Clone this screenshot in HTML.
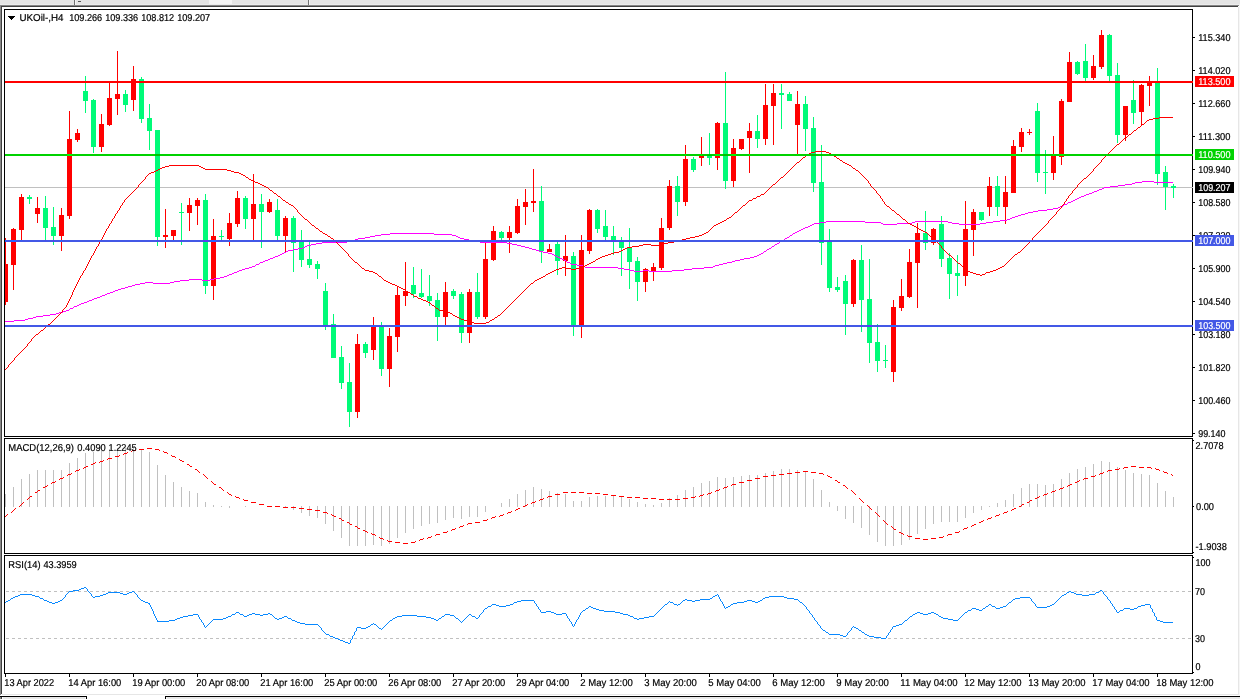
<!DOCTYPE html>
<html><head><meta charset="utf-8"><title>UKOil-,H4</title>
<style>
html,body{margin:0;padding:0;background:#fff}
body{width:1240px;height:699px;overflow:hidden}
svg{display:block}
text{font-family:"Liberation Sans",sans-serif;font-size:10px;text-rendering:geometricPrecision;stroke-width:0.2px}
</style></head><body>
<svg width="1240" height="699" viewBox="0 0 1240 699" shape-rendering="crispEdges">
<defs><clipPath id="cm"><rect x="5" y="10" width="1187" height="426"/></clipPath><clipPath id="c2"><rect x="5" y="439" width="1187" height="114"/></clipPath></defs>
<rect x="0" y="0" width="1240" height="699" fill="#ffffff"/>
<rect x="0" y="0" width="1240" height="4" fill="#e4e4e4"/>
<rect x="0" y="4" width="1240" height="1" fill="#ebebeb"/>
<rect x="0" y="5" width="1239" height="1" fill="#858585"/>
<rect x="1" y="6" width="1237" height="1" fill="#404040"/>
<rect x="0" y="5" width="1" height="690" fill="#888888"/>
<rect x="1" y="6" width="1" height="688" fill="#404040"/>
<rect x="1238" y="7" width="1" height="688" fill="#e6e6e6"/>
<rect x="1239" y="5" width="1" height="692" fill="#f6f6f6"/>
<rect x="2" y="694" width="1237" height="1" fill="#e6e6e6"/>
<rect x="74" y="0" width="1" height="5" fill="#707070"/>
<rect x="75" y="0" width="1" height="5" fill="#f4f4f4"/>
<rect x="78" y="1" width="3" height="1" fill="#555555"/>
<rect x="209" y="0" width="23" height="4" fill="#f4f4f4"/>
<rect x="308" y="0" width="1" height="5" fill="#707070"/>
<rect x="309" y="0" width="1" height="5" fill="#f4f4f4"/>
<rect x="0" y="697" width="1240" height="2" fill="#e8e8e8"/>
<rect x="87" y="695" width="78" height="4" fill="#ffffff"/>
<rect x="0" y="696" width="87" height="1" fill="#000"/>
<rect x="86" y="696" width="1" height="3" fill="#000"/>
<rect x="85" y="697" width="1" height="2" fill="#f8f8f8"/>
<rect x="165" y="696" width="1075" height="1" fill="#000"/>
<rect x="165" y="696" width="1" height="3" fill="#000"/>
<rect x="166" y="697" width="1" height="2" fill="#f8f8f8"/>
<rect x="0" y="697" width="1" height="2" fill="#888888"/>
<rect x="1" y="697" width="1" height="2" fill="#404040"/>
<rect x="2" y="697" width="1" height="2" fill="#ffffff"/>
<rect x="4" y="9" width="1189" height="1" fill="#000"/>
<rect x="4" y="436" width="1189" height="1" fill="#000"/>
<rect x="4" y="9" width="1" height="428" fill="#000"/>
<rect x="1192" y="9" width="1" height="428" fill="#000"/>
<rect x="4" y="438" width="1189" height="1" fill="#000"/>
<rect x="4" y="553" width="1189" height="1" fill="#000"/>
<rect x="4" y="438" width="1" height="116" fill="#000"/>
<rect x="1192" y="438" width="1" height="116" fill="#000"/>
<rect x="4" y="555" width="1189" height="1" fill="#000"/>
<rect x="4" y="673" width="1189" height="1" fill="#000"/>
<rect x="4" y="555" width="1" height="119" fill="#000"/>
<rect x="1192" y="555" width="1" height="119" fill="#000"/>
<g clip-path="url(#cm)">
<rect x="5" y="187" width="1187" height="1" fill="#c0c0c0"/>
<rect x="5" y="238" width="1" height="67" fill="#ff0000"/>
<rect x="3" y="264" width="5" height="38" fill="#ff0000"/>
<rect x="13" y="228" width="1" height="62" fill="#ff0000"/>
<rect x="11" y="229" width="5" height="36" fill="#ff0000"/>
<rect x="21" y="194" width="1" height="47" fill="#ff0000"/>
<rect x="19" y="197" width="5" height="33" fill="#ff0000"/>
<rect x="29" y="195" width="1" height="9" fill="#00fb78"/>
<rect x="27" y="197" width="5" height="2" fill="#00fb78"/>
<rect x="37" y="197" width="1" height="26" fill="#ff0000"/>
<rect x="35" y="208" width="5" height="6" fill="#ff0000"/>
<rect x="45" y="196" width="1" height="45" fill="#00fb78"/>
<rect x="43" y="208" width="5" height="20" fill="#00fb78"/>
<rect x="53" y="207" width="1" height="38" fill="#00fb78"/>
<rect x="51" y="227" width="5" height="9" fill="#00fb78"/>
<rect x="61" y="208" width="1" height="43" fill="#ff0000"/>
<rect x="59" y="215" width="5" height="21" fill="#ff0000"/>
<rect x="69" y="111" width="1" height="108" fill="#ff0000"/>
<rect x="67" y="139" width="5" height="77" fill="#ff0000"/>
<rect x="77" y="129" width="1" height="13" fill="#ff0000"/>
<rect x="75" y="133" width="5" height="7" fill="#ff0000"/>
<rect x="85" y="76" width="1" height="37" fill="#00fb78"/>
<rect x="83" y="91" width="5" height="10" fill="#00fb78"/>
<rect x="93" y="99" width="1" height="54" fill="#00fb78"/>
<rect x="91" y="100" width="5" height="47" fill="#00fb78"/>
<rect x="101" y="114" width="1" height="38" fill="#ff0000"/>
<rect x="99" y="124" width="5" height="23" fill="#ff0000"/>
<rect x="109" y="83" width="1" height="43" fill="#ff0000"/>
<rect x="107" y="98" width="5" height="27" fill="#ff0000"/>
<rect x="117" y="51" width="1" height="64" fill="#ff0000"/>
<rect x="115" y="94" width="5" height="5" fill="#ff0000"/>
<rect x="125" y="90" width="1" height="22" fill="#00fb78"/>
<rect x="123" y="94" width="5" height="11" fill="#00fb78"/>
<rect x="133" y="66" width="1" height="45" fill="#ff0000"/>
<rect x="131" y="79" width="5" height="21" fill="#ff0000"/>
<rect x="141" y="77" width="1" height="46" fill="#00fb78"/>
<rect x="139" y="79" width="5" height="40" fill="#00fb78"/>
<rect x="149" y="104" width="1" height="46" fill="#00fb78"/>
<rect x="147" y="118" width="5" height="13" fill="#00fb78"/>
<rect x="157" y="130" width="1" height="116" fill="#00fb78"/>
<rect x="155" y="130" width="5" height="107" fill="#00fb78"/>
<rect x="165" y="209" width="1" height="39" fill="#ff0000"/>
<rect x="163" y="235" width="5" height="2" fill="#ff0000"/>
<rect x="173" y="230" width="1" height="11" fill="#ff0000"/>
<rect x="171" y="230" width="5" height="6" fill="#ff0000"/>
<rect x="181" y="203" width="1" height="42" fill="#00fb78"/>
<rect x="179" y="212" width="5" height="1" fill="#00fb78"/>
<rect x="189" y="198" width="1" height="33" fill="#ff0000"/>
<rect x="187" y="205" width="5" height="8" fill="#ff0000"/>
<rect x="197" y="198" width="1" height="27" fill="#ff0000"/>
<rect x="195" y="200" width="5" height="6" fill="#ff0000"/>
<rect x="205" y="194" width="1" height="100" fill="#00fb78"/>
<rect x="203" y="200" width="5" height="86" fill="#00fb78"/>
<rect x="213" y="219" width="1" height="81" fill="#ff0000"/>
<rect x="211" y="236" width="5" height="50" fill="#ff0000"/>
<rect x="221" y="230" width="1" height="11" fill="#00fb78"/>
<rect x="219" y="236" width="5" height="1" fill="#00fb78"/>
<rect x="229" y="213" width="1" height="33" fill="#ff0000"/>
<rect x="227" y="223" width="5" height="16" fill="#ff0000"/>
<rect x="237" y="191" width="1" height="36" fill="#ff0000"/>
<rect x="235" y="198" width="5" height="26" fill="#ff0000"/>
<rect x="245" y="196" width="1" height="33" fill="#00fb78"/>
<rect x="243" y="198" width="5" height="21" fill="#00fb78"/>
<rect x="253" y="174" width="1" height="67" fill="#ff0000"/>
<rect x="251" y="204" width="5" height="15" fill="#ff0000"/>
<rect x="261" y="194" width="1" height="54" fill="#00fb78"/>
<rect x="259" y="204" width="5" height="8" fill="#00fb78"/>
<rect x="269" y="199" width="1" height="14" fill="#ff0000"/>
<rect x="267" y="202" width="5" height="10" fill="#ff0000"/>
<rect x="277" y="199" width="1" height="42" fill="#00fb78"/>
<rect x="275" y="210" width="5" height="26" fill="#00fb78"/>
<rect x="285" y="216" width="1" height="36" fill="#ff0000"/>
<rect x="283" y="218" width="5" height="18" fill="#ff0000"/>
<rect x="293" y="216" width="1" height="56" fill="#00fb78"/>
<rect x="291" y="218" width="5" height="25" fill="#00fb78"/>
<rect x="301" y="230" width="1" height="37" fill="#00fb78"/>
<rect x="299" y="241" width="5" height="19" fill="#00fb78"/>
<rect x="309" y="240" width="1" height="28" fill="#00fb78"/>
<rect x="307" y="259" width="5" height="6" fill="#00fb78"/>
<rect x="317" y="261" width="1" height="18" fill="#00fb78"/>
<rect x="315" y="264" width="5" height="5" fill="#00fb78"/>
<rect x="325" y="283" width="1" height="47" fill="#00fb78"/>
<rect x="323" y="291" width="5" height="35" fill="#00fb78"/>
<rect x="333" y="314" width="1" height="44" fill="#00fb78"/>
<rect x="331" y="324" width="5" height="34" fill="#00fb78"/>
<rect x="341" y="346" width="1" height="43" fill="#00fb78"/>
<rect x="339" y="357" width="5" height="26" fill="#00fb78"/>
<rect x="349" y="363" width="1" height="64" fill="#00fb78"/>
<rect x="347" y="382" width="5" height="30" fill="#00fb78"/>
<rect x="357" y="334" width="1" height="84" fill="#ff0000"/>
<rect x="355" y="344" width="5" height="68" fill="#ff0000"/>
<rect x="365" y="342" width="1" height="16" fill="#00fb78"/>
<rect x="363" y="344" width="5" height="9" fill="#00fb78"/>
<rect x="373" y="317" width="1" height="43" fill="#ff0000"/>
<rect x="371" y="326" width="5" height="24" fill="#ff0000"/>
<rect x="381" y="322" width="1" height="54" fill="#00fb78"/>
<rect x="379" y="326" width="5" height="43" fill="#00fb78"/>
<rect x="389" y="328" width="1" height="59" fill="#ff0000"/>
<rect x="387" y="336" width="5" height="33" fill="#ff0000"/>
<rect x="397" y="287" width="1" height="65" fill="#ff0000"/>
<rect x="395" y="295" width="5" height="42" fill="#ff0000"/>
<rect x="405" y="262" width="1" height="44" fill="#ff0000"/>
<rect x="403" y="291" width="5" height="5" fill="#ff0000"/>
<rect x="413" y="267" width="1" height="31" fill="#00fb78"/>
<rect x="411" y="285" width="5" height="9" fill="#00fb78"/>
<rect x="421" y="269" width="1" height="29" fill="#00fb78"/>
<rect x="419" y="293" width="5" height="4" fill="#00fb78"/>
<rect x="429" y="275" width="1" height="31" fill="#00fb78"/>
<rect x="427" y="296" width="5" height="5" fill="#00fb78"/>
<rect x="437" y="293" width="1" height="48" fill="#00fb78"/>
<rect x="435" y="300" width="5" height="17" fill="#00fb78"/>
<rect x="445" y="282" width="1" height="44" fill="#ff0000"/>
<rect x="443" y="292" width="5" height="25" fill="#ff0000"/>
<rect x="453" y="289" width="1" height="10" fill="#00fb78"/>
<rect x="451" y="291" width="5" height="5" fill="#00fb78"/>
<rect x="461" y="292" width="1" height="51" fill="#00fb78"/>
<rect x="459" y="294" width="5" height="39" fill="#00fb78"/>
<rect x="469" y="289" width="1" height="54" fill="#ff0000"/>
<rect x="467" y="292" width="5" height="41" fill="#ff0000"/>
<rect x="477" y="273" width="1" height="46" fill="#00fb78"/>
<rect x="475" y="292" width="5" height="25" fill="#00fb78"/>
<rect x="485" y="241" width="1" height="78" fill="#ff0000"/>
<rect x="483" y="259" width="5" height="58" fill="#ff0000"/>
<rect x="493" y="226" width="1" height="35" fill="#ff0000"/>
<rect x="491" y="231" width="5" height="29" fill="#ff0000"/>
<rect x="501" y="231" width="1" height="10" fill="#00fb78"/>
<rect x="499" y="232" width="5" height="6" fill="#00fb78"/>
<rect x="509" y="226" width="1" height="27" fill="#ff0000"/>
<rect x="507" y="232" width="5" height="6" fill="#ff0000"/>
<rect x="517" y="199" width="1" height="35" fill="#ff0000"/>
<rect x="515" y="206" width="5" height="27" fill="#ff0000"/>
<rect x="525" y="189" width="1" height="36" fill="#ff0000"/>
<rect x="523" y="202" width="5" height="5" fill="#ff0000"/>
<rect x="533" y="169" width="1" height="43" fill="#ff0000"/>
<rect x="531" y="201" width="5" height="2" fill="#ff0000"/>
<rect x="541" y="186" width="1" height="77" fill="#00fb78"/>
<rect x="539" y="201" width="5" height="50" fill="#00fb78"/>
<rect x="549" y="244" width="1" height="8" fill="#ff0000"/>
<rect x="547" y="249" width="5" height="3" fill="#ff0000"/>
<rect x="557" y="241" width="1" height="34" fill="#00fb78"/>
<rect x="555" y="244" width="5" height="17" fill="#00fb78"/>
<rect x="565" y="235" width="1" height="41" fill="#ff0000"/>
<rect x="563" y="256" width="5" height="5" fill="#ff0000"/>
<rect x="573" y="252" width="1" height="84" fill="#00fb78"/>
<rect x="571" y="256" width="5" height="69" fill="#00fb78"/>
<rect x="581" y="235" width="1" height="103" fill="#ff0000"/>
<rect x="579" y="250" width="5" height="75" fill="#ff0000"/>
<rect x="589" y="209" width="1" height="45" fill="#ff0000"/>
<rect x="587" y="210" width="5" height="41" fill="#ff0000"/>
<rect x="597" y="209" width="1" height="24" fill="#00fb78"/>
<rect x="595" y="210" width="5" height="19" fill="#00fb78"/>
<rect x="605" y="210" width="1" height="31" fill="#00fb78"/>
<rect x="603" y="226" width="5" height="11" fill="#00fb78"/>
<rect x="613" y="226" width="1" height="29" fill="#00fb78"/>
<rect x="611" y="236" width="5" height="6" fill="#00fb78"/>
<rect x="621" y="237" width="1" height="39" fill="#00fb78"/>
<rect x="619" y="241" width="5" height="7" fill="#00fb78"/>
<rect x="629" y="228" width="1" height="61" fill="#00fb78"/>
<rect x="627" y="248" width="5" height="14" fill="#00fb78"/>
<rect x="637" y="257" width="1" height="44" fill="#00fb78"/>
<rect x="635" y="261" width="5" height="21" fill="#00fb78"/>
<rect x="645" y="268" width="1" height="24" fill="#ff0000"/>
<rect x="643" y="269" width="5" height="13" fill="#ff0000"/>
<rect x="653" y="263" width="1" height="18" fill="#ff0000"/>
<rect x="651" y="267" width="5" height="4" fill="#ff0000"/>
<rect x="661" y="218" width="1" height="52" fill="#ff0000"/>
<rect x="659" y="228" width="5" height="40" fill="#ff0000"/>
<rect x="669" y="180" width="1" height="50" fill="#ff0000"/>
<rect x="667" y="186" width="5" height="42" fill="#ff0000"/>
<rect x="677" y="176" width="1" height="40" fill="#00fb78"/>
<rect x="675" y="186" width="5" height="16" fill="#00fb78"/>
<rect x="685" y="145" width="1" height="61" fill="#ff0000"/>
<rect x="683" y="159" width="5" height="43" fill="#ff0000"/>
<rect x="693" y="157" width="1" height="15" fill="#00fb78"/>
<rect x="691" y="159" width="5" height="11" fill="#00fb78"/>
<rect x="701" y="137" width="1" height="29" fill="#ff0000"/>
<rect x="699" y="156" width="5" height="2" fill="#ff0000"/>
<rect x="709" y="133" width="1" height="32" fill="#00fb78"/>
<rect x="707" y="155" width="5" height="3" fill="#00fb78"/>
<rect x="717" y="122" width="1" height="48" fill="#ff0000"/>
<rect x="715" y="123" width="5" height="35" fill="#ff0000"/>
<rect x="725" y="72" width="1" height="117" fill="#00fb78"/>
<rect x="723" y="123" width="5" height="58" fill="#00fb78"/>
<rect x="733" y="139" width="1" height="48" fill="#ff0000"/>
<rect x="731" y="148" width="5" height="33" fill="#ff0000"/>
<rect x="741" y="139" width="1" height="11" fill="#ff0000"/>
<rect x="739" y="139" width="5" height="10" fill="#ff0000"/>
<rect x="749" y="123" width="1" height="50" fill="#ff0000"/>
<rect x="747" y="131" width="5" height="7" fill="#ff0000"/>
<rect x="757" y="115" width="1" height="33" fill="#00fb78"/>
<rect x="755" y="131" width="5" height="8" fill="#00fb78"/>
<rect x="765" y="84" width="1" height="61" fill="#ff0000"/>
<rect x="763" y="105" width="5" height="34" fill="#ff0000"/>
<rect x="773" y="84" width="1" height="61" fill="#ff0000"/>
<rect x="771" y="93" width="5" height="13" fill="#ff0000"/>
<rect x="781" y="84" width="1" height="45" fill="#00fb78"/>
<rect x="779" y="93" width="5" height="2" fill="#00fb78"/>
<rect x="789" y="92" width="1" height="9" fill="#00fb78"/>
<rect x="787" y="94" width="5" height="7" fill="#00fb78"/>
<rect x="797" y="91" width="1" height="64" fill="#ff0000"/>
<rect x="795" y="104" width="5" height="21" fill="#ff0000"/>
<rect x="805" y="96" width="1" height="55" fill="#00fb78"/>
<rect x="803" y="104" width="5" height="25" fill="#00fb78"/>
<rect x="813" y="117" width="1" height="75" fill="#00fb78"/>
<rect x="811" y="128" width="5" height="55" fill="#00fb78"/>
<rect x="821" y="145" width="1" height="120" fill="#00fb78"/>
<rect x="819" y="182" width="5" height="61" fill="#00fb78"/>
<rect x="829" y="229" width="1" height="63" fill="#00fb78"/>
<rect x="827" y="241" width="5" height="47" fill="#00fb78"/>
<rect x="837" y="277" width="1" height="15" fill="#00fb78"/>
<rect x="835" y="287" width="5" height="3" fill="#00fb78"/>
<rect x="845" y="275" width="1" height="60" fill="#00fb78"/>
<rect x="843" y="281" width="5" height="23" fill="#00fb78"/>
<rect x="853" y="259" width="1" height="48" fill="#ff0000"/>
<rect x="851" y="260" width="5" height="44" fill="#ff0000"/>
<rect x="861" y="245" width="1" height="87" fill="#00fb78"/>
<rect x="859" y="260" width="5" height="40" fill="#00fb78"/>
<rect x="869" y="259" width="1" height="104" fill="#00fb78"/>
<rect x="867" y="299" width="5" height="44" fill="#00fb78"/>
<rect x="877" y="324" width="1" height="48" fill="#00fb78"/>
<rect x="875" y="342" width="5" height="19" fill="#00fb78"/>
<rect x="885" y="345" width="1" height="23" fill="#00fb78"/>
<rect x="883" y="360" width="5" height="1" fill="#00fb78"/>
<rect x="893" y="300" width="1" height="82" fill="#ff0000"/>
<rect x="891" y="307" width="5" height="65" fill="#ff0000"/>
<rect x="901" y="279" width="1" height="32" fill="#ff0000"/>
<rect x="899" y="296" width="5" height="12" fill="#ff0000"/>
<rect x="909" y="249" width="1" height="49" fill="#ff0000"/>
<rect x="907" y="262" width="5" height="35" fill="#ff0000"/>
<rect x="917" y="223" width="1" height="85" fill="#ff0000"/>
<rect x="915" y="233" width="5" height="30" fill="#ff0000"/>
<rect x="925" y="211" width="1" height="39" fill="#00fb78"/>
<rect x="923" y="233" width="5" height="10" fill="#00fb78"/>
<rect x="933" y="228" width="1" height="17" fill="#ff0000"/>
<rect x="931" y="229" width="5" height="14" fill="#ff0000"/>
<rect x="941" y="216" width="1" height="51" fill="#00fb78"/>
<rect x="939" y="224" width="5" height="35" fill="#00fb78"/>
<rect x="949" y="253" width="1" height="46" fill="#00fb78"/>
<rect x="947" y="258" width="5" height="16" fill="#00fb78"/>
<rect x="957" y="255" width="1" height="41" fill="#00fb78"/>
<rect x="955" y="273" width="5" height="3" fill="#00fb78"/>
<rect x="965" y="201" width="1" height="85" fill="#ff0000"/>
<rect x="963" y="229" width="5" height="47" fill="#ff0000"/>
<rect x="973" y="209" width="1" height="47" fill="#ff0000"/>
<rect x="971" y="212" width="5" height="18" fill="#ff0000"/>
<rect x="981" y="212" width="1" height="9" fill="#00fb78"/>
<rect x="979" y="212" width="5" height="8" fill="#00fb78"/>
<rect x="989" y="177" width="1" height="39" fill="#ff0000"/>
<rect x="987" y="186" width="5" height="21" fill="#ff0000"/>
<rect x="997" y="176" width="1" height="40" fill="#00fb78"/>
<rect x="995" y="186" width="5" height="21" fill="#00fb78"/>
<rect x="1005" y="176" width="1" height="48" fill="#ff0000"/>
<rect x="1003" y="192" width="5" height="15" fill="#ff0000"/>
<rect x="1013" y="140" width="1" height="53" fill="#ff0000"/>
<rect x="1011" y="146" width="5" height="47" fill="#ff0000"/>
<rect x="1021" y="128" width="1" height="24" fill="#ff0000"/>
<rect x="1019" y="132" width="5" height="15" fill="#ff0000"/>
<rect x="1029" y="129" width="1" height="6" fill="#ff0000"/>
<rect x="1027" y="132" width="5" height="1" fill="#ff0000"/>
<rect x="1037" y="103" width="1" height="79" fill="#00fb78"/>
<rect x="1035" y="111" width="5" height="62" fill="#00fb78"/>
<rect x="1045" y="150" width="1" height="44" fill="#00fb78"/>
<rect x="1043" y="172" width="5" height="1" fill="#00fb78"/>
<rect x="1053" y="136" width="1" height="44" fill="#ff0000"/>
<rect x="1051" y="156" width="5" height="17" fill="#ff0000"/>
<rect x="1061" y="99" width="1" height="66" fill="#ff0000"/>
<rect x="1059" y="101" width="5" height="56" fill="#ff0000"/>
<rect x="1069" y="52" width="1" height="50" fill="#ff0000"/>
<rect x="1067" y="62" width="5" height="40" fill="#ff0000"/>
<rect x="1077" y="61" width="1" height="14" fill="#00fb78"/>
<rect x="1075" y="62" width="5" height="12" fill="#00fb78"/>
<rect x="1085" y="44" width="1" height="38" fill="#00fb78"/>
<rect x="1083" y="61" width="5" height="17" fill="#00fb78"/>
<rect x="1093" y="55" width="1" height="25" fill="#ff0000"/>
<rect x="1091" y="66" width="5" height="12" fill="#ff0000"/>
<rect x="1101" y="30" width="1" height="39" fill="#ff0000"/>
<rect x="1099" y="35" width="5" height="32" fill="#ff0000"/>
<rect x="1109" y="34" width="1" height="48" fill="#00fb78"/>
<rect x="1107" y="35" width="5" height="41" fill="#00fb78"/>
<rect x="1117" y="63" width="1" height="80" fill="#00fb78"/>
<rect x="1115" y="75" width="5" height="60" fill="#00fb78"/>
<rect x="1125" y="106" width="1" height="35" fill="#ff0000"/>
<rect x="1123" y="106" width="5" height="29" fill="#ff0000"/>
<rect x="1133" y="80" width="1" height="44" fill="#00fb78"/>
<rect x="1131" y="100" width="5" height="13" fill="#00fb78"/>
<rect x="1141" y="84" width="1" height="41" fill="#ff0000"/>
<rect x="1139" y="85" width="5" height="27" fill="#ff0000"/>
<rect x="1149" y="76" width="1" height="30" fill="#ff0000"/>
<rect x="1147" y="81" width="5" height="5" fill="#ff0000"/>
<rect x="1157" y="68" width="1" height="117" fill="#00fb78"/>
<rect x="1155" y="83" width="5" height="91" fill="#00fb78"/>
<rect x="1165" y="166" width="1" height="44" fill="#00fb78"/>
<rect x="1163" y="172" width="5" height="15" fill="#00fb78"/>
<rect x="1173" y="184" width="1" height="14" fill="#00fb78"/>
<rect x="1171" y="186" width="5" height="2" fill="#00fb78"/>
<path d="M1104 187.5h6M820 222.5h6M865 222.5h16M912 222.5h3M948 222.5h4M986 222.5h7M256 264.5h3M571 264.5h6M719 264.5h4M249 267.5h3M585 267.5h33M704 267.5h9M239 270.5h3M630 270.5h4M643 270.5h6M672 270.5h12M381 234.5h9M434 234.5h18M113 291.5h2M826 221.5h39M915 221.5h33M993 221.5h7M145 282.5h8M170 282.5h4M812 224.5h2M883 224.5h14M959 224.5h21M81 303.5h3M322 242.5h25M480 242.5h27M311 244.5h5M512 244.5h5M775 244.5h2M1110 186.5h8M180 280.5h9M202 280.5h8M1135 182.5h7M1154 182.5h19M135 284.5h5M237 271.5h2M634 271.5h9M649 271.5h23M118 289.5h3M245 268.5h4M618 268.5h6M692 268.5h12M278 255.5h2M554 255.5h2M757 255.5h2M1071 201.5h2M1118 185.5h7M814 223.5h6M881 223.5h2M897 223.5h15M952 223.5h7M980 223.5h6M125 287.5h3M358 238.5h7M460 238.5h4M785 238.5h2M252 266.5h3M583 266.5h2M713 266.5h2M280 254.5h2M552 254.5h2M759 254.5h2M107 293.5h3M189 279.5h13M210 279.5h4M77 305.5h2M1033 211.5h5M242 269.5h3M624 269.5h6M684 269.5h8M390 233.5h44M793 233.5h2M1125 184.5h7M140 283.5h5M153 283.5h17M1092 192.5h2M5 321.5h9M1021 214.5h4M577 265.5h6M715 265.5h4M350 240.5h5M469 240.5h6M782 240.5h2M808 226.5h2M1028 212.5h5M375 235.5h6M452 235.5h4M790 235.5h2M275 256.5h3M556 256.5h2M754 256.5h3M316 243.5h6M507 243.5h5M777 243.5h2M282 253.5h2M548 253.5h4M761 253.5h2M14 320.5h11M1086 194.5h3M307 245.5h4M517 245.5h4M1018 215.5h3M365 237.5h5M458 237.5h2M787 237.5h2M260 262.5h3M567 262.5h3M727 262.5h5M1132 183.5h3M1142 181.5h12M270 258.5h3M560 258.5h2M744 258.5h6M265 260.5h3M564 260.5h2M735 260.5h5M723 263.5h4M347 241.5h3M475 241.5h5M780 241.5h2M303 247.5h2M525 247.5h4M1025 213.5h3M100 296.5h2M273 257.5h2M558 257.5h2M750 257.5h4M1007 219.5h3M263 261.5h2M732 261.5h3M355 239.5h3M464 239.5h5M298 248.5h5M529 248.5h3M769 248.5h2M74 306.5h3M1012 217.5h3M1079 197.5h2M229 274.5h3M36 316.5h7M50 314.5h6M1000 220.5h7M94 298.5h3M43 315.5h7M174 281.5h6M59 312.5h4M25 319.5h3M70 308.5h3M305 246.5h2M521 246.5h4M772 246.5h2M128 286.5h4M286 251.5h2M539 251.5h4M764 251.5h2M1075 199.5h2M224 276.5h3M66 310.5h3M293 249.5h5M532 249.5h4M767 249.5h2M87 301.5h2M56 313.5h3M284 252.5h2M543 252.5h5M1097 190.5h2M110 292.5h3M105 294.5h2M1038 210.5h9M1053 208.5h5M1084 195.5h2M234 272.5h3M805 227.5h3M1089 193.5h3M97 297.5h3M268 259.5h2M562 259.5h2M740 259.5h4M1047 209.5h6M801 229.5h2M33 317.5h3M92 299.5h2M28 318.5h5M797 231.5h2M220 277.5h4M214 278.5h6M1102 188.5h2M115 290.5h3M79 304.5h2M121 288.5h4M1073 200.5h2M1068 202.5h3M1094 191.5h3M288 250.5h5M536 250.5h3M370 236.5h5M456 236.5h2M810 225.5h2M1064 204.5h3M102 295.5h3M1015 216.5h3M1060 206.5h3M1010 218.5h2M132 285.5h3M227 275.5h2M89 300.5h3M84 302.5h3M1099 189.5h3M232 273.5h2M803 228.5h2M1058 207.5h2M63 311.5h3M1081 196.5h3M1077 198.5h2M799 230.5h2M795 232.5h2M774 245.5h1M566 261.5h1M69 309.5h1M570 263.5h1M1067 203.5h1M1063 205.5h1M259 263.5h1M792 234.5h1M73 307.5h1M771 247.5h1M255 265.5h1M784 239.5h1M766 250.5h1M789 236.5h1M763 252.5h1M779 242.5h1" fill="none" stroke="#ff00ff" stroke-width="1"/>
<path d="M811 152.5h4M826 152.5h3M627 247.5h5M397 286.5h2M887 206.5h2M596 259.5h2M151 172.5h3M234 172.5h5M439 310.5h7M428 302.5h2M735 212.5h2M169 165.5h30M849 165.5h2M355 262.5h2M591 262.5h2M643 244.5h8M661 244.5h2M468 321.5h2M316 228.5h2M917 228.5h2M674 241.5h4M1084 178.5h2M1159 117.5h14M546 274.5h2M976 274.5h4M982 274.5h3M421 299.5h2M600 257.5h2M266 187.5h2M720 222.5h2M470 322.5h4M486 322.5h3M632 246.5h7M369 271.5h4M552 271.5h2M968 271.5h2M990 271.5h3M158 169.5h2M205 169.5h22M260 184.5h2M773 184.5h2M446 311.5h2M149 173.5h2M239 173.5h2M384 280.5h2M535 280.5h2M365 270.5h4M554 270.5h2M993 270.5h3M165 166.5h4M199 166.5h2M663 243.5h5M418 298.5h3M602 256.5h3M411 294.5h2M312 225.5h2M714 225.5h2M912 225.5h2M331 238.5h2M686 238.5h4M932 238.5h2M253 181.5h2M605 255.5h3M949 255.5h2M625 248.5h2M328 236.5h2M695 236.5h4M919 229.5h2M621 250.5h2M587 264.5h2M390 283.5h2M531 283.5h2M262 185.5h2M803 157.5h2M362 268.5h2M559 268.5h3M566 268.5h5M576 268.5h5M998 268.5h2M274 193.5h2M840 160.5h2M323 233.5h2M704 233.5h2M474 323.5h12M892 210.5h2M156 170.5h2M227 170.5h4M856 170.5h2M241 174.5h2M403 289.5h2M401 288.5h2M373 272.5h2M550 272.5h2M970 272.5h3M986 272.5h4M539 278.5h2M623 249.5h2M729 217.5h2M724 220.5h2M914 226.5h2M706 232.5h2M925 232.5h2M682 239.5h4M399 287.5h2M392 284.5h3M1142 124.5h2M761 194.5h3M614 252.5h5M1018 252.5h2M583 266.5h2M1002 266.5h2M608 254.5h3M1015 254.5h2M249 179.5h2M461 319.5h3M492 319.5h2M464 320.5h4M490 320.5h2M668 242.5h6M270 190.5h2M251 180.5h2M639 245.5h4M651 245.5h10M246 177.5h2M781 177.5h2M815 151.5h11M589 263.5h2M958 263.5h2M809 153.5h2M829 153.5h2M325 234.5h2M702 234.5h2M406 291.5h2M283 200.5h2M749 200.5h3M162 167.5h3M201 167.5h2M432 305.5h2M678 240.5h4M699 235.5h3M585 265.5h2M448 312.5h2M455 316.5h2M1129 134.5h2M375 273.5h2M548 273.5h2M973 273.5h3M154 171.5h2M231 171.5h3M690 237.5h5M264 186.5h2M459 318.5h2M258 183.5h2M556 269.5h3M571 269.5h5M965 269.5h2M996 269.5h2M562 267.5h4M581 267.5h2M1000 267.5h2M1147 120.5h2M243 175.5h2M320 231.5h2M923 231.5h2M426 301.5h2M593 261.5h2M847 164.5h2M727 218.5h2M291 205.5h2M743 205.5h2M716 224.5h2M910 224.5h2M921 230.5h2M537 279.5h2M160 168.5h2M203 168.5h2M853 168.5h2M414 296.5h3M278 196.5h2M757 196.5h3M286 202.5h2M436 308.5h2M718 223.5h2M908 223.5h2M457 317.5h2M495 317.5h2M722 221.5h2M834 156.5h2M255 182.5h3M753 198.5h3M807 154.5h2M831 154.5h2M797 162.5h2M843 162.5h2M619 251.5h2M980 275.5h2M386 281.5h2M379 276.5h2M543 276.5h2M611 253.5h3M423 300.5h3M598 258.5h2M450 313.5h2M837 158.5h2M845 163.5h2M1153 118.5h6M408 292.5h2M1134 130.5h2M395 285.5h2M541 277.5h2M388 282.5h2M453 315.5h2M498 315.5h2M289 204.5h2M1124 138.5h2M48 324.5h2M305 219.5h2M903 219.5h2M897 214.5h2M1149 119.5h4M41 330.5h2M36 334.5h2M1117 144.5h2M1138 127.5h2M1109 152.5h1M12 361.5h1M112.5 219v2M35 335.5h1M528 286.5h1M115.5 214v2M1066.5 199v2M939 244.5h1M361 267.5h1M104.5 233v2M519 295.5h1M1082 180.5h1M1061.5 206v2M746 203.5h1M954 259.5h1M1007 262.5h1M335 241.5h1M87.5 264v2M865 178.5h1M119.5 208v2M1140 126.5h1M739 209.5h1M350 257.5h1M770 187.5h1M1077.5 185v2M1042 228.5h1M111.5 221v2M516 298.5h1M100.5 240v2M1074 189.5h1M1144 123.5h1M70.5 297v2M507 307.5h1M1101.5 160v2M24 348.5h1M800 160.5h1M83.5 271v2M417 297.5h1M964 268.5h1M75.5 286v2M793 166.5h1M1116 145.5h1M953 258.5h1M39 332.5h1M96.5 247v2M99.5 242v2M876.5 191v2M916 227.5h1M349 256.5h1M1120 142.5h1M43 329.5h1M32 338.5h1M413 295.5h1M334 240.5h1M79.5 278v2M1025 246.5h1M777 181.5h1M138.5 185v2M1014 255.5h1M942 248.5h1M103.5 235v2M95.5 249v2M1104 157.5h1M27.5 344v2M62.5 310v2M523 291.5h1M245 176.5h1M875 190.5h1M341 247.5h1M1123 139.5h1M342 248.5h1M293 206.5h1M59 314.5h1M91.5 256v2M1069 195.5h1M1072.5 191v2M765 192.5h1M1037 233.5h1M130 194.5h1M1127 136.5h1M50 323.5h1M511 303.5h1M118 210.5h1M842 161.5h1M1093.5 169v2M107 228.5h1M861 174.5h1M1096 166.5h1M348.5 254v2M502 312.5h1M74.5 288v2M19 353.5h1M300 214.5h1M526 288.5h1M301 215.5h1M122.5 203v2M868.5 181v2M1091 172.5h1M1022 249.5h1M788 171.5h1M82.5 273v2M405 290.5h1M114.5 216v2M768 189.5h1M1049 220.5h1M142 181.5h1M514 300.5h1M934 239.5h1M1020 251.5h1M726 219.5h1M1009 260.5h1M86.5 266v2M11 362.5h1M330 237.5h1M31.5 339v2M859 172.5h1M710 229.5h1M741 207.5h1M878 194.5h1M78.5 280v2M1131 133.5h1M137 187.5h1M860 173.5h1M102.5 237v2M1057 211.5h1M69.5 299v2M1146 121.5h1M94.5 251v2M26 346.5h1M288 203.5h1M941.5 246v2M438 309.5h1M833 155.5h1M1032.5 238v2M866 179.5h1M1052 217.5h1M54 319.5h1M1029 242.5h1M795 164.5h1M948 254.5h1M867 180.5h1M125 199.5h1M98.5 244v2M145.5 177v2M1111 150.5h1M506 308.5h1M381 277.5h1M930 236.5h1M530 284.5h1M90.5 258v2M1068.5 196v2M1088 175.5h1M382 278.5h1M960 264.5h1M14.5 358v2M521 293.5h1M748 201.5h1M595 260.5h1M779 179.5h1M307 220.5h1M73.5 290v2M285 201.5h1M745 204.5h1M882.5 199v2M6 368.5h1M783 176.5h1M772 185.5h1M1044 226.5h1M452 314.5h1M518 296.5h1M940 245.5h1M322 232.5h1M1076 187.5h1M1079 183.5h1M110 223.5h1M509 305.5h1M929 235.5h1M732 215.5h1M802 158.5h1M1004 265.5h1M870.5 184v2M336 242.5h1M61 312.5h1M1071 193.5h1M799 161.5h1M132 192.5h1M855 169.5h1M85.5 268v2M337 243.5h1M877 193.5h1M1122 140.5h1M45 327.5h1M34 336.5h1M68.5 301v2M434 306.5h1M1027 244.5h1M38 333.5h1M1024 247.5h1M344 250.5h1M1106 155.5h1M9 364.5h1M29 342.5h1M525 289.5h1M377 274.5h1M72.5 292v3M955 260.5h1M121 205.5h1M144 179.5h1M64 308.5h1M351 258.5h1M806 155.5h1M899 215.5h1M77.5 282v2M712 227.5h1M303 217.5h1M1133 131.5h1M944 250.5h1M767 190.5h1M1039 231.5h1M1059 209.5h1M513 301.5h1M117.5 211v2M93.5 253v2M1137 128.5h1M1126 137.5h1M129 195.5h1M504 310.5h1M1008 261.5h1M318 229.5h1M1098 164.5h1M21 351.5h1M790 169.5h1M1086 177.5h1M1141 125.5h1M410 293.5h1M1054 215.5h1M343 249.5h1M56 317.5h1M497 316.5h1M124.5 200v2M127 197.5h1M147 175.5h1M1113 148.5h1M295 208.5h1M302 216.5h1M851 166.5h1M943 249.5h1M862 175.5h1M985 273.5h1M1051 218.5h1M1011 258.5h1M1062 205.5h1M280 197.5h1M869 183.5h1M1046 224.5h1M520 294.5h1M709 230.5h1M740 208.5h1M136 188.5h1M139 184.5h1M294 207.5h1M880.5 196v2M935 240.5h1M489 321.5h1M357 263.5h1M1145 122.5h1M962 266.5h1M120.5 206v2M5 369.5h1M501 313.5h1M884.5 202v2M936 241.5h1M358 264.5h1M895 212.5h1M1031 240.5h1M1034 236.5h1M76.5 284v2M67.5 303v2M1090 173.5h1M13 360.5h1M47 325.5h1M16 356.5h1M1070 194.5h1M40 331.5h1M1065 201.5h1M327 235.5h1M747 202.5h1M778 180.5h1M8.5 365v2M1108 153.5h1M339 245.5h1M383 279.5h1M961 265.5h1M879 195.5h1M839 159.5h1M435 307.5h1M734 213.5h1M71.5 295v2M1006 263.5h1M508 306.5h1M28 343.5h1M883 201.5h1M738 210.5h1M801 159.5h1M276 194.5h1M134 190.5h1M805 156.5h1M131 193.5h1M51 322.5h1M23 349.5h1M352 259.5h1M957 262.5h1M785 174.5h1M871 186.5h1M527 287.5h1M931 237.5h1M353 260.5h1M364 269.5h1M106.5 229v2M1081 181.5h1M872 187.5h1M1026 245.5h1M338 244.5h1M308 221.5h1M894 211.5h1M319 230.5h1M905 220.5h1M1105 156.5h1M66.5 305v2M309 222.5h1M1041 229.5h1M123 202.5h1M776 182.5h1M1013 256.5h1M515 299.5h1M143 180.5h1M345 251.5h1M1100 162.5h1M769 188.5h1M711 228.5h1M378 275.5h1M956 261.5h1M1073 190.5h1M1038 232.5h1M534 281.5h1M1128 135.5h1M945 251.5h1M792 167.5h1M503 311.5h1M281 198.5h1M431 304.5h1M1056.5 212v2M20 352.5h1M946 252.5h1M890 208.5h1M282 199.5h1M55 318.5h1M1115 146.5h1M126 198.5h1M1092 171.5h1M1112 149.5h1M18 354.5h1M1053 216.5h1M297.5 210v2M1017 253.5h1M248 178.5h1M937 242.5h1M1064.5 202v2M89.5 260v2M146 176.5h1M967 270.5h1M1021 250.5h1M938 243.5h1M360 266.5h1M886 205.5h1M1010 259.5h1M1103 158.5h1M889 207.5h1M852 167.5h1M314 226.5h1M900 216.5h1M742 206.5h1M1045 225.5h1M58 315.5h1M304 218.5h1M430 303.5h1M901 217.5h1M315 227.5h1M864 177.5h1M7 367.5h1M30 341.5h1M1095 167.5h1M1119 143.5h1M764 193.5h1M101 239.5h1M796 163.5h1M1033 237.5h1M881 198.5h1M963 267.5h1M787 172.5h1M81 275.5h1M296 209.5h1M1048.5 221v2M15 357.5h1M522 292.5h1M885 204.5h1M359 265.5h1M863 176.5h1M1083 179.5h1M1028 243.5h1M780 178.5h1M277 195.5h1M141 182.5h1M97 246.5h1M545 275.5h1M1110 151.5h1M494 318.5h1M113 218.5h1M1087 176.5h1M927 233.5h1M784 175.5h1M333 239.5h1M10 363.5h1M1036 234.5h1M1080 182.5h1M510 304.5h1M733 214.5h1M1005 264.5h1M109.5 224v2M760 195.5h1M874 189.5h1M340 246.5h1M737 211.5h1M1075 188.5h1M133 191.5h1M53 320.5h1M310 223.5h1M896 213.5h1M25 347.5h1M907 222.5h1M1099 163.5h1M22 350.5h1M311 224.5h1M529 285.5h1M46 326.5h1M1067 198.5h1M952 257.5h1M105.5 231v2M533 282.5h1M791 168.5h1M1107 154.5h1M44 328.5h1M33 337.5h1M836 157.5h1M771 186.5h1M1043 227.5h1M517 297.5h1M65 307.5h1M80.5 276v2M775 183.5h1M873 188.5h1M1012 257.5h1M273 192.5h1M951 256.5h1M713 226.5h1M756 197.5h1M60 313.5h1M1040 230.5h1M298 212.5h1M1060 208.5h1M1063 204.5h1M731 216.5h1M794 165.5h1M505 309.5h1M299 213.5h1M1121 141.5h1M1055 214.5h1M1058 210.5h1M57 316.5h1M116 213.5h1M354 261.5h1M128 196.5h1M108.5 226v2M148 174.5h1M891 209.5h1M1114 147.5h1M524 290.5h1M269 189.5h1M947 253.5h1M88.5 262v2M906 221.5h1M272 191.5h1M1078 184.5h1M1023 248.5h1M858 171.5h1M752 199.5h1M786 173.5h1M1102 159.5h1M1047 223.5h1M346 252.5h1M63 309.5h1M766 191.5h1M84 270.5h1M140 183.5h1M512 302.5h1M347 253.5h1M1097 165.5h1M1132 132.5h1M268 188.5h1M708 231.5h1M928 234.5h1M135 189.5h1M92 255.5h1M1136 129.5h1M1035 235.5h1M902 218.5h1M789 170.5h1M1094 168.5h1M500 314.5h1M17 355.5h1M1030 241.5h1M1050 219.5h1M52 321.5h1M1089 174.5h1" fill="none" stroke="#ff0000" stroke-width="1"/>
</g>
<rect x="5" y="81" width="1188" height="2" fill="#ff0000"/>
<rect x="5" y="154" width="1188" height="2" fill="#00d200"/>
<rect x="5" y="240" width="1188" height="2" fill="#4358e6"/>
<rect x="5" y="325" width="1188" height="2" fill="#4358e6"/>
<rect x="5" y="240" width="1" height="2" fill="#2864ff"/>
<rect x="11" y="240" width="5" height="2" fill="#2864ff"/>
<rect x="21" y="240" width="1" height="1" fill="#2864ff"/>
<rect x="45" y="240" width="1" height="1" fill="#5040f0"/>
<rect x="53" y="240" width="1" height="2" fill="#5040f0"/>
<rect x="61" y="240" width="1" height="2" fill="#2864ff"/>
<rect x="67" y="154" width="5" height="2" fill="#00f000"/>
<rect x="155" y="154" width="5" height="2" fill="#00be00"/>
<rect x="157" y="240" width="1" height="2" fill="#5040f0"/>
<rect x="165" y="240" width="1" height="2" fill="#2864ff"/>
<rect x="173" y="240" width="1" height="1" fill="#2864ff"/>
<rect x="181" y="240" width="1" height="2" fill="#5040f0"/>
<rect x="203" y="240" width="5" height="2" fill="#5040f0"/>
<rect x="211" y="240" width="5" height="2" fill="#2864ff"/>
<rect x="221" y="240" width="1" height="1" fill="#5040f0"/>
<rect x="229" y="240" width="1" height="2" fill="#2864ff"/>
<rect x="253" y="240" width="1" height="1" fill="#2864ff"/>
<rect x="261" y="240" width="1" height="2" fill="#5040f0"/>
<rect x="277" y="240" width="1" height="1" fill="#5040f0"/>
<rect x="285" y="240" width="1" height="2" fill="#2864ff"/>
<rect x="291" y="240" width="5" height="2" fill="#5040f0"/>
<rect x="299" y="241" width="5" height="1" fill="#5040f0"/>
<rect x="301" y="240" width="1" height="2" fill="#5040f0"/>
<rect x="309" y="240" width="1" height="2" fill="#5040f0"/>
<rect x="323" y="325" width="5" height="1" fill="#5040f0"/>
<rect x="325" y="325" width="1" height="2" fill="#5040f0"/>
<rect x="331" y="325" width="5" height="2" fill="#5040f0"/>
<rect x="371" y="326" width="5" height="1" fill="#2864ff"/>
<rect x="373" y="325" width="1" height="2" fill="#2864ff"/>
<rect x="379" y="326" width="5" height="1" fill="#5040f0"/>
<rect x="381" y="325" width="1" height="2" fill="#5040f0"/>
<rect x="395" y="325" width="5" height="2" fill="#2864ff"/>
<rect x="437" y="325" width="1" height="2" fill="#5040f0"/>
<rect x="445" y="325" width="1" height="1" fill="#2864ff"/>
<rect x="459" y="325" width="5" height="2" fill="#5040f0"/>
<rect x="467" y="325" width="5" height="2" fill="#2864ff"/>
<rect x="485" y="241" width="1" height="1" fill="#2864ff"/>
<rect x="491" y="240" width="5" height="2" fill="#2864ff"/>
<rect x="501" y="240" width="1" height="1" fill="#5040f0"/>
<rect x="509" y="240" width="1" height="2" fill="#2864ff"/>
<rect x="539" y="240" width="5" height="2" fill="#5040f0"/>
<rect x="557" y="241" width="1" height="1" fill="#5040f0"/>
<rect x="565" y="240" width="1" height="2" fill="#2864ff"/>
<rect x="573" y="325" width="1" height="2" fill="#5040f0"/>
<rect x="581" y="240" width="1" height="2" fill="#2864ff"/>
<rect x="581" y="325" width="1" height="2" fill="#2864ff"/>
<rect x="587" y="240" width="5" height="2" fill="#2864ff"/>
<rect x="605" y="240" width="1" height="1" fill="#5040f0"/>
<rect x="611" y="240" width="5" height="2" fill="#5040f0"/>
<rect x="619" y="241" width="5" height="1" fill="#5040f0"/>
<rect x="621" y="240" width="1" height="2" fill="#5040f0"/>
<rect x="629" y="240" width="1" height="2" fill="#5040f0"/>
<rect x="659" y="240" width="5" height="2" fill="#2864ff"/>
<rect x="685" y="154" width="1" height="2" fill="#00f000"/>
<rect x="701" y="154" width="1" height="2" fill="#00f000"/>
<rect x="707" y="155" width="5" height="1" fill="#00be00"/>
<rect x="709" y="154" width="1" height="2" fill="#00be00"/>
<rect x="715" y="154" width="5" height="2" fill="#00f000"/>
<rect x="723" y="154" width="5" height="2" fill="#00be00"/>
<rect x="731" y="154" width="5" height="2" fill="#00f000"/>
<rect x="749" y="154" width="1" height="2" fill="#00f000"/>
<rect x="797" y="154" width="1" height="1" fill="#00f000"/>
<rect x="811" y="154" width="5" height="2" fill="#00be00"/>
<rect x="821" y="154" width="1" height="2" fill="#00be00"/>
<rect x="819" y="240" width="5" height="2" fill="#5040f0"/>
<rect x="827" y="241" width="5" height="1" fill="#5040f0"/>
<rect x="829" y="240" width="1" height="2" fill="#5040f0"/>
<rect x="845" y="325" width="1" height="2" fill="#5040f0"/>
<rect x="861" y="325" width="1" height="2" fill="#5040f0"/>
<rect x="867" y="325" width="5" height="2" fill="#5040f0"/>
<rect x="877" y="325" width="1" height="2" fill="#5040f0"/>
<rect x="891" y="325" width="5" height="2" fill="#2864ff"/>
<rect x="915" y="240" width="5" height="2" fill="#2864ff"/>
<rect x="923" y="240" width="5" height="2" fill="#5040f0"/>
<rect x="931" y="240" width="5" height="2" fill="#2864ff"/>
<rect x="939" y="240" width="5" height="2" fill="#5040f0"/>
<rect x="963" y="240" width="5" height="2" fill="#2864ff"/>
<rect x="973" y="240" width="1" height="2" fill="#2864ff"/>
<rect x="1011" y="154" width="5" height="2" fill="#00f000"/>
<rect x="1035" y="154" width="5" height="2" fill="#00be00"/>
<rect x="1045" y="154" width="1" height="2" fill="#00be00"/>
<rect x="1053" y="154" width="1" height="2" fill="#00f000"/>
<rect x="1059" y="154" width="5" height="2" fill="#00f000"/>
<rect x="1155" y="154" width="5" height="2" fill="#00be00"/>
<rect x="5" y="494" width="1" height="13" fill="#c0c0c0"/>
<rect x="13" y="487" width="1" height="20" fill="#c0c0c0"/>
<rect x="21" y="479" width="1" height="28" fill="#c0c0c0"/>
<rect x="29" y="474" width="1" height="33" fill="#c0c0c0"/>
<rect x="37" y="470" width="1" height="37" fill="#c0c0c0"/>
<rect x="45" y="470" width="1" height="37" fill="#c0c0c0"/>
<rect x="53" y="470" width="1" height="37" fill="#c0c0c0"/>
<rect x="61" y="470" width="1" height="37" fill="#c0c0c0"/>
<rect x="69" y="463" width="1" height="44" fill="#c0c0c0"/>
<rect x="77" y="458" width="1" height="49" fill="#c0c0c0"/>
<rect x="85" y="453" width="1" height="54" fill="#c0c0c0"/>
<rect x="93" y="452" width="1" height="55" fill="#c0c0c0"/>
<rect x="101" y="451" width="1" height="56" fill="#c0c0c0"/>
<rect x="109" y="449" width="1" height="58" fill="#c0c0c0"/>
<rect x="117" y="448" width="1" height="59" fill="#c0c0c0"/>
<rect x="125" y="448" width="1" height="59" fill="#c0c0c0"/>
<rect x="133" y="448" width="1" height="59" fill="#c0c0c0"/>
<rect x="141" y="450" width="1" height="57" fill="#c0c0c0"/>
<rect x="149" y="452" width="1" height="55" fill="#c0c0c0"/>
<rect x="157" y="465" width="1" height="42" fill="#c0c0c0"/>
<rect x="165" y="475" width="1" height="32" fill="#c0c0c0"/>
<rect x="173" y="482" width="1" height="25" fill="#c0c0c0"/>
<rect x="181" y="487" width="1" height="20" fill="#c0c0c0"/>
<rect x="189" y="491" width="1" height="16" fill="#c0c0c0"/>
<rect x="197" y="493" width="1" height="14" fill="#c0c0c0"/>
<rect x="205" y="502" width="1" height="5" fill="#c0c0c0"/>
<rect x="213" y="505" width="1" height="2" fill="#c0c0c0"/>
<rect x="221" y="506" width="1" height="1" fill="#c0c0c0"/>
<rect x="229" y="506" width="1" height="2" fill="#c0c0c0"/>
<rect x="245" y="506" width="1" height="1" fill="#c0c0c0"/>
<rect x="277" y="506" width="1" height="1" fill="#c0c0c0"/>
<rect x="285" y="506" width="1" height="1" fill="#c0c0c0"/>
<rect x="293" y="506" width="1" height="4" fill="#c0c0c0"/>
<rect x="301" y="506" width="1" height="7" fill="#c0c0c0"/>
<rect x="309" y="506" width="1" height="10" fill="#c0c0c0"/>
<rect x="317" y="506" width="1" height="12" fill="#c0c0c0"/>
<rect x="325" y="506" width="1" height="18" fill="#c0c0c0"/>
<rect x="333" y="506" width="1" height="25" fill="#c0c0c0"/>
<rect x="341" y="506" width="1" height="32" fill="#c0c0c0"/>
<rect x="349" y="506" width="1" height="40" fill="#c0c0c0"/>
<rect x="357" y="506" width="1" height="40" fill="#c0c0c0"/>
<rect x="365" y="506" width="1" height="40" fill="#c0c0c0"/>
<rect x="373" y="506" width="1" height="39" fill="#c0c0c0"/>
<rect x="381" y="506" width="1" height="40" fill="#c0c0c0"/>
<rect x="389" y="506" width="1" height="38" fill="#c0c0c0"/>
<rect x="397" y="506" width="1" height="32" fill="#c0c0c0"/>
<rect x="405" y="506" width="1" height="27" fill="#c0c0c0"/>
<rect x="413" y="506" width="1" height="23" fill="#c0c0c0"/>
<rect x="421" y="506" width="1" height="20" fill="#c0c0c0"/>
<rect x="429" y="506" width="1" height="18" fill="#c0c0c0"/>
<rect x="437" y="506" width="1" height="17" fill="#c0c0c0"/>
<rect x="445" y="506" width="1" height="14" fill="#c0c0c0"/>
<rect x="453" y="506" width="1" height="12" fill="#c0c0c0"/>
<rect x="461" y="506" width="1" height="13" fill="#c0c0c0"/>
<rect x="469" y="506" width="1" height="11" fill="#c0c0c0"/>
<rect x="477" y="506" width="1" height="11" fill="#c0c0c0"/>
<rect x="485" y="506" width="1" height="6" fill="#c0c0c0"/>
<rect x="501" y="503" width="1" height="4" fill="#c0c0c0"/>
<rect x="509" y="499" width="1" height="8" fill="#c0c0c0"/>
<rect x="517" y="494" width="1" height="13" fill="#c0c0c0"/>
<rect x="525" y="490" width="1" height="17" fill="#c0c0c0"/>
<rect x="533" y="487" width="1" height="20" fill="#c0c0c0"/>
<rect x="541" y="489" width="1" height="18" fill="#c0c0c0"/>
<rect x="549" y="491" width="1" height="16" fill="#c0c0c0"/>
<rect x="557" y="493" width="1" height="14" fill="#c0c0c0"/>
<rect x="565" y="494" width="1" height="13" fill="#c0c0c0"/>
<rect x="573" y="501" width="1" height="6" fill="#c0c0c0"/>
<rect x="581" y="501" width="1" height="6" fill="#c0c0c0"/>
<rect x="589" y="497" width="1" height="10" fill="#c0c0c0"/>
<rect x="597" y="496" width="1" height="11" fill="#c0c0c0"/>
<rect x="605" y="496" width="1" height="11" fill="#c0c0c0"/>
<rect x="613" y="496" width="1" height="11" fill="#c0c0c0"/>
<rect x="621" y="497" width="1" height="10" fill="#c0c0c0"/>
<rect x="629" y="499" width="1" height="8" fill="#c0c0c0"/>
<rect x="637" y="502" width="1" height="5" fill="#c0c0c0"/>
<rect x="645" y="504" width="1" height="3" fill="#c0c0c0"/>
<rect x="653" y="505" width="1" height="2" fill="#c0c0c0"/>
<rect x="661" y="503" width="1" height="4" fill="#c0c0c0"/>
<rect x="669" y="498" width="1" height="9" fill="#c0c0c0"/>
<rect x="677" y="495" width="1" height="12" fill="#c0c0c0"/>
<rect x="685" y="490" width="1" height="17" fill="#c0c0c0"/>
<rect x="693" y="487" width="1" height="20" fill="#c0c0c0"/>
<rect x="701" y="483" width="1" height="24" fill="#c0c0c0"/>
<rect x="709" y="481" width="1" height="26" fill="#c0c0c0"/>
<rect x="717" y="477" width="1" height="30" fill="#c0c0c0"/>
<rect x="725" y="478" width="1" height="29" fill="#c0c0c0"/>
<rect x="733" y="477" width="1" height="30" fill="#c0c0c0"/>
<rect x="741" y="476" width="1" height="31" fill="#c0c0c0"/>
<rect x="749" y="475" width="1" height="32" fill="#c0c0c0"/>
<rect x="757" y="475" width="1" height="32" fill="#c0c0c0"/>
<rect x="765" y="473" width="1" height="34" fill="#c0c0c0"/>
<rect x="773" y="471" width="1" height="36" fill="#c0c0c0"/>
<rect x="781" y="469" width="1" height="38" fill="#c0c0c0"/>
<rect x="789" y="469" width="1" height="38" fill="#c0c0c0"/>
<rect x="797" y="470" width="1" height="37" fill="#c0c0c0"/>
<rect x="805" y="471" width="1" height="36" fill="#c0c0c0"/>
<rect x="813" y="479" width="1" height="28" fill="#c0c0c0"/>
<rect x="821" y="490" width="1" height="17" fill="#c0c0c0"/>
<rect x="829" y="502" width="1" height="5" fill="#c0c0c0"/>
<rect x="837" y="506" width="1" height="5" fill="#c0c0c0"/>
<rect x="845" y="506" width="1" height="13" fill="#c0c0c0"/>
<rect x="853" y="506" width="1" height="17" fill="#c0c0c0"/>
<rect x="861" y="506" width="1" height="22" fill="#c0c0c0"/>
<rect x="869" y="506" width="1" height="29" fill="#c0c0c0"/>
<rect x="877" y="506" width="1" height="36" fill="#c0c0c0"/>
<rect x="885" y="506" width="1" height="40" fill="#c0c0c0"/>
<rect x="893" y="506" width="1" height="40" fill="#c0c0c0"/>
<rect x="901" y="506" width="1" height="39" fill="#c0c0c0"/>
<rect x="909" y="506" width="1" height="34" fill="#c0c0c0"/>
<rect x="917" y="506" width="1" height="28" fill="#c0c0c0"/>
<rect x="925" y="506" width="1" height="23" fill="#c0c0c0"/>
<rect x="933" y="506" width="1" height="18" fill="#c0c0c0"/>
<rect x="941" y="506" width="1" height="16" fill="#c0c0c0"/>
<rect x="949" y="506" width="1" height="16" fill="#c0c0c0"/>
<rect x="957" y="506" width="1" height="16" fill="#c0c0c0"/>
<rect x="965" y="506" width="1" height="12" fill="#c0c0c0"/>
<rect x="973" y="506" width="1" height="7" fill="#c0c0c0"/>
<rect x="981" y="506" width="1" height="4" fill="#c0c0c0"/>
<rect x="989" y="506" width="1" height="1" fill="#c0c0c0"/>
<rect x="997" y="503" width="1" height="4" fill="#c0c0c0"/>
<rect x="1005" y="500" width="1" height="7" fill="#c0c0c0"/>
<rect x="1013" y="494" width="1" height="13" fill="#c0c0c0"/>
<rect x="1021" y="488" width="1" height="19" fill="#c0c0c0"/>
<rect x="1029" y="484" width="1" height="23" fill="#c0c0c0"/>
<rect x="1037" y="484" width="1" height="23" fill="#c0c0c0"/>
<rect x="1045" y="485" width="1" height="22" fill="#c0c0c0"/>
<rect x="1053" y="484" width="1" height="23" fill="#c0c0c0"/>
<rect x="1061" y="479" width="1" height="28" fill="#c0c0c0"/>
<rect x="1069" y="473" width="1" height="34" fill="#c0c0c0"/>
<rect x="1077" y="469" width="1" height="38" fill="#c0c0c0"/>
<rect x="1085" y="467" width="1" height="40" fill="#c0c0c0"/>
<rect x="1093" y="464" width="1" height="43" fill="#c0c0c0"/>
<rect x="1101" y="461" width="1" height="46" fill="#c0c0c0"/>
<rect x="1109" y="462" width="1" height="45" fill="#c0c0c0"/>
<rect x="1117" y="467" width="1" height="40" fill="#c0c0c0"/>
<rect x="1125" y="470" width="1" height="37" fill="#c0c0c0"/>
<rect x="1133" y="473" width="1" height="34" fill="#c0c0c0"/>
<rect x="1141" y="474" width="1" height="33" fill="#c0c0c0"/>
<rect x="1149" y="475" width="1" height="32" fill="#c0c0c0"/>
<rect x="1157" y="483" width="1" height="24" fill="#c0c0c0"/>
<rect x="1165" y="491" width="1" height="16" fill="#c0c0c0"/>
<rect x="1173" y="497" width="1" height="10" fill="#c0c0c0"/>
<path d="M380 538.5h3M915 538.5h5M931 538.5h5M299 508.5h5M518 508.5h2M1014 508.5h2M339 518.5h2M988 518.5h3M643 498.5h5M651 498.5h5M683 498.5h5M1035 498.5h2M236 497.5h3M627 497.5h5M635 497.5h5M691 497.5h4M1037 497.5h2M323 512.5h4M508 512.5h3M1004 512.5h3M84 467.5h2M1124 467.5h4M1139 467.5h5M1147 467.5h4M35 492.5h2M563 492.5h5M571 492.5h5M579 492.5h5M540 499.5h3M659 499.5h5M667 499.5h5M675 499.5h5M86 466.5h2M190 466.5h2M1131 466.5h5M38 490.5h2M716 490.5h3M908 536.5h4M315 510.5h5M334 516.5h2M195 469.5h2M1115 469.5h4M1156 469.5h3M43 487.5h2M219 487.5h2M724 487.5h3M763 476.5h5M828 476.5h2M1091 476.5h4M267 506.5h5M275 506.5h5M523 506.5h2M1019 506.5h2M365 531.5h2M388 541.5h4M91 464.5h2M187 464.5h2M830 477.5h2M403 543.5h5M795 472.5h5M811 472.5h5M1164 472.5h3M52 482.5h3M739 482.5h5M838 482.5h2M1075 482.5h2M124 453.5h3M420 539.5h3M923 539.5h5M60 478.5h3M755 478.5h5M1084 478.5h4M229 494.5h2M555 494.5h5M603 494.5h5M1044 494.5h3M587 493.5h5M595 493.5h5M708 493.5h3M68 474.5h3M779 474.5h5M259 504.5h5M1022 504.5h2M787 473.5h5M819 473.5h4M1100 473.5h3M115 456.5h4M172 456.5h3M45 486.5h2M972 525.5h2M771 475.5h5M611 495.5h5M700 495.5h3M347 522.5h2M475 522.5h5M979 522.5h2M395 542.5h5M411 542.5h4M803 471.5h5M76 470.5h3M1108 470.5h4M251 502.5h5M532 502.5h3M1027 502.5h2M372 534.5h3M436 534.5h4M948 534.5h4M214 484.5h2M732 484.5h4M1070 484.5h2M468 523.5h4M358 528.5h2M964 528.5h3M1060 488.5h3M244 500.5h4M1030 500.5h2M307 509.5h5M516 509.5h2M1012 509.5h2M164 452.5h3M355 526.5h2M460 526.5h3M139 449.5h5M155 449.5h4M180 460.5h2M332 515.5h2M500 515.5h3M996 515.5h3M100 461.5h3M182 461.5h2M283 507.5h5M291 507.5h5M443 532.5h4M899 532.5h2M955 532.5h4M492 517.5h3M342 520.5h2M483 520.5h4M1052 491.5h3M108 458.5h4M30 496.5h2M548 496.5h4M619 496.5h5M843 485.5h2M1068 485.5h2M981 521.5h2M747 480.5h5M835 480.5h2M132 450.5h4M363 530.5h2M147 448.5h5M901 533.5h2M350 524.5h2M974 524.5h2M428 537.5h3M939 537.5h4M452 529.5h3M894 529.5h2M525 505.5h2M1077 481.5h2M93 463.5h2M1051 492.5h1M197 470.5h1M431 536.5h1M203 474.5h1M987 519.5h1M507 513.5h1M1021 505.5h1M859 498.5h1M1059 489.5h1M711 492.5h1M212 482.5h1M855 494.5h1M231 495.5h1M1095 475.5h1M860 499.5h1M198 471.5h1M995 516.5h1M515 510.5h1M861 500.5h1M1172 475.5h1M1067 486.5h1M967 527.5h1M199 472.5h1M943 536.5h1M837 481.5h1M447 531.5h1M213 483.5h1M1003 513.5h1M206 477.5h1M23 502.5h1M1007 511.5h1M357 527.5h1M12 511.5h1M963 529.5h1M862 501.5h1M715 491.5h1M63 477.5h1M207 478.5h1M527 504.5h1M327 513.5h1M1099 474.5h1M11 512.5h1M1103 472.5h1M455 528.5h1M123 454.5h1M863 502.5h1M159 450.5h1M103 460.5h1M383 539.5h1M79 469.5h1M947 535.5h1M727 486.5h1M423 538.5h1M1079 480.5h1M907 535.5h1M1171 474.5h1M427 538.5h1M463 525.5h1M1011 510.5h1M131 451.5h1M827 475.5h1M1151 468.5h1M75 471.5h1M204 475.5h1M703 494.5h1M189 465.5h1M707 494.5h1M459 527.5h1M379 537.5h1M371 533.5h1M222 489.5h1M1155 468.5h1M83 468.5h1M29 497.5h1M13 510.5h1M349 523.5h1M341 519.5h1M223 490.5h1M205 476.5h1M435 535.5h1M415 541.5h1M467 524.5h1M22 503.5h1M27 499.5h1M491 518.5h1M28 498.5h1M239 498.5h1M171 455.5h1M163 451.5h1M375 535.5h1M55 481.5h1M878 515.5h1M59 479.5h1M1159 470.5h1M21 504.5h1M179 459.5h1M6 515.5h1M883 520.5h1M7 514.5h1M451 530.5h1M1123 468.5h1M1039 496.5h1M971 526.5h1M879 516.5h1M19 506.5h1M5 516.5h1M875 512.5h1M235 496.5h1M227 492.5h1M167 453.5h1M221 488.5h1M1107 471.5h1M99 462.5h1M1047 493.5h1M1167 473.5h1M71 473.5h1M228 493.5h1M845 486.5h1M175 457.5h1M699 496.5h1M535 501.5h1M1083 479.5h1M983 520.5h1M503 514.5h1M876 513.5h1M107 459.5h1M846 487.5h1M886 523.5h1M1055 490.5h1M731 485.5h1M877 514.5h1M543 498.5h1M870 508.5h1M853 492.5h1M331 514.5h1M991 517.5h1M1029 501.5h1M1163 471.5h1M1119 468.5h1M959 531.5h1M847 488.5h1M539 500.5h1M37 491.5h1M20 505.5h1M511 511.5h1M51 483.5h1M1063 487.5h1M854 493.5h1M871 509.5h1M95 462.5h1M211 481.5h1M695 496.5h1M884 521.5h1M867 505.5h1M903 534.5h1M15 508.5h1M547 497.5h1M723 488.5h1M999 514.5h1M419 540.5h1M47 485.5h1M487 519.5h1M823 474.5h1M851 490.5h1M868 506.5h1M891 526.5h1M119 455.5h1M14 509.5h1M1043 495.5h1M67 475.5h1M885 522.5h1M367 532.5h1M495 516.5h1M531 503.5h1M719 489.5h1M243 499.5h1M892 527.5h1M869 507.5h1M852 491.5h1M387 540.5h1M887 524.5h1M127 452.5h1M499 516.5h1M893 528.5h1" fill="none" stroke="#ff0000" stroke-width="1"/>
<rect x="6" y="591" width="3" height="1" fill="#c0c0c0"/>
<rect x="12" y="591" width="3" height="1" fill="#c0c0c0"/>
<rect x="18" y="591" width="3" height="1" fill="#c0c0c0"/>
<rect x="24" y="591" width="3" height="1" fill="#c0c0c0"/>
<rect x="30" y="591" width="3" height="1" fill="#c0c0c0"/>
<rect x="36" y="591" width="3" height="1" fill="#c0c0c0"/>
<rect x="42" y="591" width="3" height="1" fill="#c0c0c0"/>
<rect x="48" y="591" width="3" height="1" fill="#c0c0c0"/>
<rect x="54" y="591" width="3" height="1" fill="#c0c0c0"/>
<rect x="60" y="591" width="3" height="1" fill="#c0c0c0"/>
<rect x="66" y="591" width="3" height="1" fill="#c0c0c0"/>
<rect x="72" y="591" width="3" height="1" fill="#c0c0c0"/>
<rect x="78" y="591" width="3" height="1" fill="#c0c0c0"/>
<rect x="84" y="591" width="3" height="1" fill="#c0c0c0"/>
<rect x="90" y="591" width="3" height="1" fill="#c0c0c0"/>
<rect x="96" y="591" width="3" height="1" fill="#c0c0c0"/>
<rect x="102" y="591" width="3" height="1" fill="#c0c0c0"/>
<rect x="108" y="591" width="3" height="1" fill="#c0c0c0"/>
<rect x="114" y="591" width="3" height="1" fill="#c0c0c0"/>
<rect x="120" y="591" width="3" height="1" fill="#c0c0c0"/>
<rect x="126" y="591" width="3" height="1" fill="#c0c0c0"/>
<rect x="132" y="591" width="3" height="1" fill="#c0c0c0"/>
<rect x="138" y="591" width="3" height="1" fill="#c0c0c0"/>
<rect x="144" y="591" width="3" height="1" fill="#c0c0c0"/>
<rect x="150" y="591" width="3" height="1" fill="#c0c0c0"/>
<rect x="156" y="591" width="3" height="1" fill="#c0c0c0"/>
<rect x="162" y="591" width="3" height="1" fill="#c0c0c0"/>
<rect x="168" y="591" width="3" height="1" fill="#c0c0c0"/>
<rect x="174" y="591" width="3" height="1" fill="#c0c0c0"/>
<rect x="180" y="591" width="3" height="1" fill="#c0c0c0"/>
<rect x="186" y="591" width="3" height="1" fill="#c0c0c0"/>
<rect x="192" y="591" width="3" height="1" fill="#c0c0c0"/>
<rect x="198" y="591" width="3" height="1" fill="#c0c0c0"/>
<rect x="204" y="591" width="3" height="1" fill="#c0c0c0"/>
<rect x="210" y="591" width="3" height="1" fill="#c0c0c0"/>
<rect x="216" y="591" width="3" height="1" fill="#c0c0c0"/>
<rect x="222" y="591" width="3" height="1" fill="#c0c0c0"/>
<rect x="228" y="591" width="3" height="1" fill="#c0c0c0"/>
<rect x="234" y="591" width="3" height="1" fill="#c0c0c0"/>
<rect x="240" y="591" width="3" height="1" fill="#c0c0c0"/>
<rect x="246" y="591" width="3" height="1" fill="#c0c0c0"/>
<rect x="252" y="591" width="3" height="1" fill="#c0c0c0"/>
<rect x="258" y="591" width="3" height="1" fill="#c0c0c0"/>
<rect x="264" y="591" width="3" height="1" fill="#c0c0c0"/>
<rect x="270" y="591" width="3" height="1" fill="#c0c0c0"/>
<rect x="276" y="591" width="3" height="1" fill="#c0c0c0"/>
<rect x="282" y="591" width="3" height="1" fill="#c0c0c0"/>
<rect x="288" y="591" width="3" height="1" fill="#c0c0c0"/>
<rect x="294" y="591" width="3" height="1" fill="#c0c0c0"/>
<rect x="300" y="591" width="3" height="1" fill="#c0c0c0"/>
<rect x="306" y="591" width="3" height="1" fill="#c0c0c0"/>
<rect x="312" y="591" width="3" height="1" fill="#c0c0c0"/>
<rect x="318" y="591" width="3" height="1" fill="#c0c0c0"/>
<rect x="324" y="591" width="3" height="1" fill="#c0c0c0"/>
<rect x="330" y="591" width="3" height="1" fill="#c0c0c0"/>
<rect x="336" y="591" width="3" height="1" fill="#c0c0c0"/>
<rect x="342" y="591" width="3" height="1" fill="#c0c0c0"/>
<rect x="348" y="591" width="3" height="1" fill="#c0c0c0"/>
<rect x="354" y="591" width="3" height="1" fill="#c0c0c0"/>
<rect x="360" y="591" width="3" height="1" fill="#c0c0c0"/>
<rect x="366" y="591" width="3" height="1" fill="#c0c0c0"/>
<rect x="372" y="591" width="3" height="1" fill="#c0c0c0"/>
<rect x="378" y="591" width="3" height="1" fill="#c0c0c0"/>
<rect x="384" y="591" width="3" height="1" fill="#c0c0c0"/>
<rect x="390" y="591" width="3" height="1" fill="#c0c0c0"/>
<rect x="396" y="591" width="3" height="1" fill="#c0c0c0"/>
<rect x="402" y="591" width="3" height="1" fill="#c0c0c0"/>
<rect x="408" y="591" width="3" height="1" fill="#c0c0c0"/>
<rect x="414" y="591" width="3" height="1" fill="#c0c0c0"/>
<rect x="420" y="591" width="3" height="1" fill="#c0c0c0"/>
<rect x="426" y="591" width="3" height="1" fill="#c0c0c0"/>
<rect x="432" y="591" width="3" height="1" fill="#c0c0c0"/>
<rect x="438" y="591" width="3" height="1" fill="#c0c0c0"/>
<rect x="444" y="591" width="3" height="1" fill="#c0c0c0"/>
<rect x="450" y="591" width="3" height="1" fill="#c0c0c0"/>
<rect x="456" y="591" width="3" height="1" fill="#c0c0c0"/>
<rect x="462" y="591" width="3" height="1" fill="#c0c0c0"/>
<rect x="468" y="591" width="3" height="1" fill="#c0c0c0"/>
<rect x="474" y="591" width="3" height="1" fill="#c0c0c0"/>
<rect x="480" y="591" width="3" height="1" fill="#c0c0c0"/>
<rect x="486" y="591" width="3" height="1" fill="#c0c0c0"/>
<rect x="492" y="591" width="3" height="1" fill="#c0c0c0"/>
<rect x="498" y="591" width="3" height="1" fill="#c0c0c0"/>
<rect x="504" y="591" width="3" height="1" fill="#c0c0c0"/>
<rect x="510" y="591" width="3" height="1" fill="#c0c0c0"/>
<rect x="516" y="591" width="3" height="1" fill="#c0c0c0"/>
<rect x="522" y="591" width="3" height="1" fill="#c0c0c0"/>
<rect x="528" y="591" width="3" height="1" fill="#c0c0c0"/>
<rect x="534" y="591" width="3" height="1" fill="#c0c0c0"/>
<rect x="540" y="591" width="3" height="1" fill="#c0c0c0"/>
<rect x="546" y="591" width="3" height="1" fill="#c0c0c0"/>
<rect x="552" y="591" width="3" height="1" fill="#c0c0c0"/>
<rect x="558" y="591" width="3" height="1" fill="#c0c0c0"/>
<rect x="564" y="591" width="3" height="1" fill="#c0c0c0"/>
<rect x="570" y="591" width="3" height="1" fill="#c0c0c0"/>
<rect x="576" y="591" width="3" height="1" fill="#c0c0c0"/>
<rect x="582" y="591" width="3" height="1" fill="#c0c0c0"/>
<rect x="588" y="591" width="3" height="1" fill="#c0c0c0"/>
<rect x="594" y="591" width="3" height="1" fill="#c0c0c0"/>
<rect x="600" y="591" width="3" height="1" fill="#c0c0c0"/>
<rect x="606" y="591" width="3" height="1" fill="#c0c0c0"/>
<rect x="612" y="591" width="3" height="1" fill="#c0c0c0"/>
<rect x="618" y="591" width="3" height="1" fill="#c0c0c0"/>
<rect x="624" y="591" width="3" height="1" fill="#c0c0c0"/>
<rect x="630" y="591" width="3" height="1" fill="#c0c0c0"/>
<rect x="636" y="591" width="3" height="1" fill="#c0c0c0"/>
<rect x="642" y="591" width="3" height="1" fill="#c0c0c0"/>
<rect x="648" y="591" width="3" height="1" fill="#c0c0c0"/>
<rect x="654" y="591" width="3" height="1" fill="#c0c0c0"/>
<rect x="660" y="591" width="3" height="1" fill="#c0c0c0"/>
<rect x="666" y="591" width="3" height="1" fill="#c0c0c0"/>
<rect x="672" y="591" width="3" height="1" fill="#c0c0c0"/>
<rect x="678" y="591" width="3" height="1" fill="#c0c0c0"/>
<rect x="684" y="591" width="3" height="1" fill="#c0c0c0"/>
<rect x="690" y="591" width="3" height="1" fill="#c0c0c0"/>
<rect x="696" y="591" width="3" height="1" fill="#c0c0c0"/>
<rect x="702" y="591" width="3" height="1" fill="#c0c0c0"/>
<rect x="708" y="591" width="3" height="1" fill="#c0c0c0"/>
<rect x="714" y="591" width="3" height="1" fill="#c0c0c0"/>
<rect x="720" y="591" width="3" height="1" fill="#c0c0c0"/>
<rect x="726" y="591" width="3" height="1" fill="#c0c0c0"/>
<rect x="732" y="591" width="3" height="1" fill="#c0c0c0"/>
<rect x="738" y="591" width="3" height="1" fill="#c0c0c0"/>
<rect x="744" y="591" width="3" height="1" fill="#c0c0c0"/>
<rect x="750" y="591" width="3" height="1" fill="#c0c0c0"/>
<rect x="756" y="591" width="3" height="1" fill="#c0c0c0"/>
<rect x="762" y="591" width="3" height="1" fill="#c0c0c0"/>
<rect x="768" y="591" width="3" height="1" fill="#c0c0c0"/>
<rect x="774" y="591" width="3" height="1" fill="#c0c0c0"/>
<rect x="780" y="591" width="3" height="1" fill="#c0c0c0"/>
<rect x="786" y="591" width="3" height="1" fill="#c0c0c0"/>
<rect x="792" y="591" width="3" height="1" fill="#c0c0c0"/>
<rect x="798" y="591" width="3" height="1" fill="#c0c0c0"/>
<rect x="804" y="591" width="3" height="1" fill="#c0c0c0"/>
<rect x="810" y="591" width="3" height="1" fill="#c0c0c0"/>
<rect x="816" y="591" width="3" height="1" fill="#c0c0c0"/>
<rect x="822" y="591" width="3" height="1" fill="#c0c0c0"/>
<rect x="828" y="591" width="3" height="1" fill="#c0c0c0"/>
<rect x="834" y="591" width="3" height="1" fill="#c0c0c0"/>
<rect x="840" y="591" width="3" height="1" fill="#c0c0c0"/>
<rect x="846" y="591" width="3" height="1" fill="#c0c0c0"/>
<rect x="852" y="591" width="3" height="1" fill="#c0c0c0"/>
<rect x="858" y="591" width="3" height="1" fill="#c0c0c0"/>
<rect x="864" y="591" width="3" height="1" fill="#c0c0c0"/>
<rect x="870" y="591" width="3" height="1" fill="#c0c0c0"/>
<rect x="876" y="591" width="3" height="1" fill="#c0c0c0"/>
<rect x="882" y="591" width="3" height="1" fill="#c0c0c0"/>
<rect x="888" y="591" width="3" height="1" fill="#c0c0c0"/>
<rect x="894" y="591" width="3" height="1" fill="#c0c0c0"/>
<rect x="900" y="591" width="3" height="1" fill="#c0c0c0"/>
<rect x="906" y="591" width="3" height="1" fill="#c0c0c0"/>
<rect x="912" y="591" width="3" height="1" fill="#c0c0c0"/>
<rect x="918" y="591" width="3" height="1" fill="#c0c0c0"/>
<rect x="924" y="591" width="3" height="1" fill="#c0c0c0"/>
<rect x="930" y="591" width="3" height="1" fill="#c0c0c0"/>
<rect x="936" y="591" width="3" height="1" fill="#c0c0c0"/>
<rect x="942" y="591" width="3" height="1" fill="#c0c0c0"/>
<rect x="948" y="591" width="3" height="1" fill="#c0c0c0"/>
<rect x="954" y="591" width="3" height="1" fill="#c0c0c0"/>
<rect x="960" y="591" width="3" height="1" fill="#c0c0c0"/>
<rect x="966" y="591" width="3" height="1" fill="#c0c0c0"/>
<rect x="972" y="591" width="3" height="1" fill="#c0c0c0"/>
<rect x="978" y="591" width="3" height="1" fill="#c0c0c0"/>
<rect x="984" y="591" width="3" height="1" fill="#c0c0c0"/>
<rect x="990" y="591" width="3" height="1" fill="#c0c0c0"/>
<rect x="996" y="591" width="3" height="1" fill="#c0c0c0"/>
<rect x="1002" y="591" width="3" height="1" fill="#c0c0c0"/>
<rect x="1008" y="591" width="3" height="1" fill="#c0c0c0"/>
<rect x="1014" y="591" width="3" height="1" fill="#c0c0c0"/>
<rect x="1020" y="591" width="3" height="1" fill="#c0c0c0"/>
<rect x="1026" y="591" width="3" height="1" fill="#c0c0c0"/>
<rect x="1032" y="591" width="3" height="1" fill="#c0c0c0"/>
<rect x="1038" y="591" width="3" height="1" fill="#c0c0c0"/>
<rect x="1044" y="591" width="3" height="1" fill="#c0c0c0"/>
<rect x="1050" y="591" width="3" height="1" fill="#c0c0c0"/>
<rect x="1056" y="591" width="3" height="1" fill="#c0c0c0"/>
<rect x="1062" y="591" width="3" height="1" fill="#c0c0c0"/>
<rect x="1068" y="591" width="3" height="1" fill="#c0c0c0"/>
<rect x="1074" y="591" width="3" height="1" fill="#c0c0c0"/>
<rect x="1080" y="591" width="3" height="1" fill="#c0c0c0"/>
<rect x="1086" y="591" width="3" height="1" fill="#c0c0c0"/>
<rect x="1092" y="591" width="3" height="1" fill="#c0c0c0"/>
<rect x="1098" y="591" width="3" height="1" fill="#c0c0c0"/>
<rect x="1104" y="591" width="3" height="1" fill="#c0c0c0"/>
<rect x="1110" y="591" width="3" height="1" fill="#c0c0c0"/>
<rect x="1116" y="591" width="3" height="1" fill="#c0c0c0"/>
<rect x="1122" y="591" width="3" height="1" fill="#c0c0c0"/>
<rect x="1128" y="591" width="3" height="1" fill="#c0c0c0"/>
<rect x="1134" y="591" width="3" height="1" fill="#c0c0c0"/>
<rect x="1140" y="591" width="3" height="1" fill="#c0c0c0"/>
<rect x="1146" y="591" width="3" height="1" fill="#c0c0c0"/>
<rect x="1152" y="591" width="3" height="1" fill="#c0c0c0"/>
<rect x="1158" y="591" width="3" height="1" fill="#c0c0c0"/>
<rect x="1164" y="591" width="3" height="1" fill="#c0c0c0"/>
<rect x="1170" y="591" width="3" height="1" fill="#c0c0c0"/>
<rect x="1176" y="591" width="3" height="1" fill="#c0c0c0"/>
<rect x="1182" y="591" width="3" height="1" fill="#c0c0c0"/>
<rect x="1188" y="591" width="3" height="1" fill="#c0c0c0"/>
<rect x="6" y="638" width="3" height="1" fill="#c0c0c0"/>
<rect x="12" y="638" width="3" height="1" fill="#c0c0c0"/>
<rect x="18" y="638" width="3" height="1" fill="#c0c0c0"/>
<rect x="24" y="638" width="3" height="1" fill="#c0c0c0"/>
<rect x="30" y="638" width="3" height="1" fill="#c0c0c0"/>
<rect x="36" y="638" width="3" height="1" fill="#c0c0c0"/>
<rect x="42" y="638" width="3" height="1" fill="#c0c0c0"/>
<rect x="48" y="638" width="3" height="1" fill="#c0c0c0"/>
<rect x="54" y="638" width="3" height="1" fill="#c0c0c0"/>
<rect x="60" y="638" width="3" height="1" fill="#c0c0c0"/>
<rect x="66" y="638" width="3" height="1" fill="#c0c0c0"/>
<rect x="72" y="638" width="3" height="1" fill="#c0c0c0"/>
<rect x="78" y="638" width="3" height="1" fill="#c0c0c0"/>
<rect x="84" y="638" width="3" height="1" fill="#c0c0c0"/>
<rect x="90" y="638" width="3" height="1" fill="#c0c0c0"/>
<rect x="96" y="638" width="3" height="1" fill="#c0c0c0"/>
<rect x="102" y="638" width="3" height="1" fill="#c0c0c0"/>
<rect x="108" y="638" width="3" height="1" fill="#c0c0c0"/>
<rect x="114" y="638" width="3" height="1" fill="#c0c0c0"/>
<rect x="120" y="638" width="3" height="1" fill="#c0c0c0"/>
<rect x="126" y="638" width="3" height="1" fill="#c0c0c0"/>
<rect x="132" y="638" width="3" height="1" fill="#c0c0c0"/>
<rect x="138" y="638" width="3" height="1" fill="#c0c0c0"/>
<rect x="144" y="638" width="3" height="1" fill="#c0c0c0"/>
<rect x="150" y="638" width="3" height="1" fill="#c0c0c0"/>
<rect x="156" y="638" width="3" height="1" fill="#c0c0c0"/>
<rect x="162" y="638" width="3" height="1" fill="#c0c0c0"/>
<rect x="168" y="638" width="3" height="1" fill="#c0c0c0"/>
<rect x="174" y="638" width="3" height="1" fill="#c0c0c0"/>
<rect x="180" y="638" width="3" height="1" fill="#c0c0c0"/>
<rect x="186" y="638" width="3" height="1" fill="#c0c0c0"/>
<rect x="192" y="638" width="3" height="1" fill="#c0c0c0"/>
<rect x="198" y="638" width="3" height="1" fill="#c0c0c0"/>
<rect x="204" y="638" width="3" height="1" fill="#c0c0c0"/>
<rect x="210" y="638" width="3" height="1" fill="#c0c0c0"/>
<rect x="216" y="638" width="3" height="1" fill="#c0c0c0"/>
<rect x="222" y="638" width="3" height="1" fill="#c0c0c0"/>
<rect x="228" y="638" width="3" height="1" fill="#c0c0c0"/>
<rect x="234" y="638" width="3" height="1" fill="#c0c0c0"/>
<rect x="240" y="638" width="3" height="1" fill="#c0c0c0"/>
<rect x="246" y="638" width="3" height="1" fill="#c0c0c0"/>
<rect x="252" y="638" width="3" height="1" fill="#c0c0c0"/>
<rect x="258" y="638" width="3" height="1" fill="#c0c0c0"/>
<rect x="264" y="638" width="3" height="1" fill="#c0c0c0"/>
<rect x="270" y="638" width="3" height="1" fill="#c0c0c0"/>
<rect x="276" y="638" width="3" height="1" fill="#c0c0c0"/>
<rect x="282" y="638" width="3" height="1" fill="#c0c0c0"/>
<rect x="288" y="638" width="3" height="1" fill="#c0c0c0"/>
<rect x="294" y="638" width="3" height="1" fill="#c0c0c0"/>
<rect x="300" y="638" width="3" height="1" fill="#c0c0c0"/>
<rect x="306" y="638" width="3" height="1" fill="#c0c0c0"/>
<rect x="312" y="638" width="3" height="1" fill="#c0c0c0"/>
<rect x="318" y="638" width="3" height="1" fill="#c0c0c0"/>
<rect x="324" y="638" width="3" height="1" fill="#c0c0c0"/>
<rect x="330" y="638" width="3" height="1" fill="#c0c0c0"/>
<rect x="336" y="638" width="3" height="1" fill="#c0c0c0"/>
<rect x="342" y="638" width="3" height="1" fill="#c0c0c0"/>
<rect x="348" y="638" width="3" height="1" fill="#c0c0c0"/>
<rect x="354" y="638" width="3" height="1" fill="#c0c0c0"/>
<rect x="360" y="638" width="3" height="1" fill="#c0c0c0"/>
<rect x="366" y="638" width="3" height="1" fill="#c0c0c0"/>
<rect x="372" y="638" width="3" height="1" fill="#c0c0c0"/>
<rect x="378" y="638" width="3" height="1" fill="#c0c0c0"/>
<rect x="384" y="638" width="3" height="1" fill="#c0c0c0"/>
<rect x="390" y="638" width="3" height="1" fill="#c0c0c0"/>
<rect x="396" y="638" width="3" height="1" fill="#c0c0c0"/>
<rect x="402" y="638" width="3" height="1" fill="#c0c0c0"/>
<rect x="408" y="638" width="3" height="1" fill="#c0c0c0"/>
<rect x="414" y="638" width="3" height="1" fill="#c0c0c0"/>
<rect x="420" y="638" width="3" height="1" fill="#c0c0c0"/>
<rect x="426" y="638" width="3" height="1" fill="#c0c0c0"/>
<rect x="432" y="638" width="3" height="1" fill="#c0c0c0"/>
<rect x="438" y="638" width="3" height="1" fill="#c0c0c0"/>
<rect x="444" y="638" width="3" height="1" fill="#c0c0c0"/>
<rect x="450" y="638" width="3" height="1" fill="#c0c0c0"/>
<rect x="456" y="638" width="3" height="1" fill="#c0c0c0"/>
<rect x="462" y="638" width="3" height="1" fill="#c0c0c0"/>
<rect x="468" y="638" width="3" height="1" fill="#c0c0c0"/>
<rect x="474" y="638" width="3" height="1" fill="#c0c0c0"/>
<rect x="480" y="638" width="3" height="1" fill="#c0c0c0"/>
<rect x="486" y="638" width="3" height="1" fill="#c0c0c0"/>
<rect x="492" y="638" width="3" height="1" fill="#c0c0c0"/>
<rect x="498" y="638" width="3" height="1" fill="#c0c0c0"/>
<rect x="504" y="638" width="3" height="1" fill="#c0c0c0"/>
<rect x="510" y="638" width="3" height="1" fill="#c0c0c0"/>
<rect x="516" y="638" width="3" height="1" fill="#c0c0c0"/>
<rect x="522" y="638" width="3" height="1" fill="#c0c0c0"/>
<rect x="528" y="638" width="3" height="1" fill="#c0c0c0"/>
<rect x="534" y="638" width="3" height="1" fill="#c0c0c0"/>
<rect x="540" y="638" width="3" height="1" fill="#c0c0c0"/>
<rect x="546" y="638" width="3" height="1" fill="#c0c0c0"/>
<rect x="552" y="638" width="3" height="1" fill="#c0c0c0"/>
<rect x="558" y="638" width="3" height="1" fill="#c0c0c0"/>
<rect x="564" y="638" width="3" height="1" fill="#c0c0c0"/>
<rect x="570" y="638" width="3" height="1" fill="#c0c0c0"/>
<rect x="576" y="638" width="3" height="1" fill="#c0c0c0"/>
<rect x="582" y="638" width="3" height="1" fill="#c0c0c0"/>
<rect x="588" y="638" width="3" height="1" fill="#c0c0c0"/>
<rect x="594" y="638" width="3" height="1" fill="#c0c0c0"/>
<rect x="600" y="638" width="3" height="1" fill="#c0c0c0"/>
<rect x="606" y="638" width="3" height="1" fill="#c0c0c0"/>
<rect x="612" y="638" width="3" height="1" fill="#c0c0c0"/>
<rect x="618" y="638" width="3" height="1" fill="#c0c0c0"/>
<rect x="624" y="638" width="3" height="1" fill="#c0c0c0"/>
<rect x="630" y="638" width="3" height="1" fill="#c0c0c0"/>
<rect x="636" y="638" width="3" height="1" fill="#c0c0c0"/>
<rect x="642" y="638" width="3" height="1" fill="#c0c0c0"/>
<rect x="648" y="638" width="3" height="1" fill="#c0c0c0"/>
<rect x="654" y="638" width="3" height="1" fill="#c0c0c0"/>
<rect x="660" y="638" width="3" height="1" fill="#c0c0c0"/>
<rect x="666" y="638" width="3" height="1" fill="#c0c0c0"/>
<rect x="672" y="638" width="3" height="1" fill="#c0c0c0"/>
<rect x="678" y="638" width="3" height="1" fill="#c0c0c0"/>
<rect x="684" y="638" width="3" height="1" fill="#c0c0c0"/>
<rect x="690" y="638" width="3" height="1" fill="#c0c0c0"/>
<rect x="696" y="638" width="3" height="1" fill="#c0c0c0"/>
<rect x="702" y="638" width="3" height="1" fill="#c0c0c0"/>
<rect x="708" y="638" width="3" height="1" fill="#c0c0c0"/>
<rect x="714" y="638" width="3" height="1" fill="#c0c0c0"/>
<rect x="720" y="638" width="3" height="1" fill="#c0c0c0"/>
<rect x="726" y="638" width="3" height="1" fill="#c0c0c0"/>
<rect x="732" y="638" width="3" height="1" fill="#c0c0c0"/>
<rect x="738" y="638" width="3" height="1" fill="#c0c0c0"/>
<rect x="744" y="638" width="3" height="1" fill="#c0c0c0"/>
<rect x="750" y="638" width="3" height="1" fill="#c0c0c0"/>
<rect x="756" y="638" width="3" height="1" fill="#c0c0c0"/>
<rect x="762" y="638" width="3" height="1" fill="#c0c0c0"/>
<rect x="768" y="638" width="3" height="1" fill="#c0c0c0"/>
<rect x="774" y="638" width="3" height="1" fill="#c0c0c0"/>
<rect x="780" y="638" width="3" height="1" fill="#c0c0c0"/>
<rect x="786" y="638" width="3" height="1" fill="#c0c0c0"/>
<rect x="792" y="638" width="3" height="1" fill="#c0c0c0"/>
<rect x="798" y="638" width="3" height="1" fill="#c0c0c0"/>
<rect x="804" y="638" width="3" height="1" fill="#c0c0c0"/>
<rect x="810" y="638" width="3" height="1" fill="#c0c0c0"/>
<rect x="816" y="638" width="3" height="1" fill="#c0c0c0"/>
<rect x="822" y="638" width="3" height="1" fill="#c0c0c0"/>
<rect x="828" y="638" width="3" height="1" fill="#c0c0c0"/>
<rect x="834" y="638" width="3" height="1" fill="#c0c0c0"/>
<rect x="840" y="638" width="3" height="1" fill="#c0c0c0"/>
<rect x="846" y="638" width="3" height="1" fill="#c0c0c0"/>
<rect x="852" y="638" width="3" height="1" fill="#c0c0c0"/>
<rect x="858" y="638" width="3" height="1" fill="#c0c0c0"/>
<rect x="864" y="638" width="3" height="1" fill="#c0c0c0"/>
<rect x="870" y="638" width="3" height="1" fill="#c0c0c0"/>
<rect x="876" y="638" width="3" height="1" fill="#c0c0c0"/>
<rect x="882" y="638" width="3" height="1" fill="#c0c0c0"/>
<rect x="888" y="638" width="3" height="1" fill="#c0c0c0"/>
<rect x="894" y="638" width="3" height="1" fill="#c0c0c0"/>
<rect x="900" y="638" width="3" height="1" fill="#c0c0c0"/>
<rect x="906" y="638" width="3" height="1" fill="#c0c0c0"/>
<rect x="912" y="638" width="3" height="1" fill="#c0c0c0"/>
<rect x="918" y="638" width="3" height="1" fill="#c0c0c0"/>
<rect x="924" y="638" width="3" height="1" fill="#c0c0c0"/>
<rect x="930" y="638" width="3" height="1" fill="#c0c0c0"/>
<rect x="936" y="638" width="3" height="1" fill="#c0c0c0"/>
<rect x="942" y="638" width="3" height="1" fill="#c0c0c0"/>
<rect x="948" y="638" width="3" height="1" fill="#c0c0c0"/>
<rect x="954" y="638" width="3" height="1" fill="#c0c0c0"/>
<rect x="960" y="638" width="3" height="1" fill="#c0c0c0"/>
<rect x="966" y="638" width="3" height="1" fill="#c0c0c0"/>
<rect x="972" y="638" width="3" height="1" fill="#c0c0c0"/>
<rect x="978" y="638" width="3" height="1" fill="#c0c0c0"/>
<rect x="984" y="638" width="3" height="1" fill="#c0c0c0"/>
<rect x="990" y="638" width="3" height="1" fill="#c0c0c0"/>
<rect x="996" y="638" width="3" height="1" fill="#c0c0c0"/>
<rect x="1002" y="638" width="3" height="1" fill="#c0c0c0"/>
<rect x="1008" y="638" width="3" height="1" fill="#c0c0c0"/>
<rect x="1014" y="638" width="3" height="1" fill="#c0c0c0"/>
<rect x="1020" y="638" width="3" height="1" fill="#c0c0c0"/>
<rect x="1026" y="638" width="3" height="1" fill="#c0c0c0"/>
<rect x="1032" y="638" width="3" height="1" fill="#c0c0c0"/>
<rect x="1038" y="638" width="3" height="1" fill="#c0c0c0"/>
<rect x="1044" y="638" width="3" height="1" fill="#c0c0c0"/>
<rect x="1050" y="638" width="3" height="1" fill="#c0c0c0"/>
<rect x="1056" y="638" width="3" height="1" fill="#c0c0c0"/>
<rect x="1062" y="638" width="3" height="1" fill="#c0c0c0"/>
<rect x="1068" y="638" width="3" height="1" fill="#c0c0c0"/>
<rect x="1074" y="638" width="3" height="1" fill="#c0c0c0"/>
<rect x="1080" y="638" width="3" height="1" fill="#c0c0c0"/>
<rect x="1086" y="638" width="3" height="1" fill="#c0c0c0"/>
<rect x="1092" y="638" width="3" height="1" fill="#c0c0c0"/>
<rect x="1098" y="638" width="3" height="1" fill="#c0c0c0"/>
<rect x="1104" y="638" width="3" height="1" fill="#c0c0c0"/>
<rect x="1110" y="638" width="3" height="1" fill="#c0c0c0"/>
<rect x="1116" y="638" width="3" height="1" fill="#c0c0c0"/>
<rect x="1122" y="638" width="3" height="1" fill="#c0c0c0"/>
<rect x="1128" y="638" width="3" height="1" fill="#c0c0c0"/>
<rect x="1134" y="638" width="3" height="1" fill="#c0c0c0"/>
<rect x="1140" y="638" width="3" height="1" fill="#c0c0c0"/>
<rect x="1146" y="638" width="3" height="1" fill="#c0c0c0"/>
<rect x="1152" y="638" width="3" height="1" fill="#c0c0c0"/>
<rect x="1158" y="638" width="3" height="1" fill="#c0c0c0"/>
<rect x="1164" y="638" width="3" height="1" fill="#c0c0c0"/>
<rect x="1170" y="638" width="3" height="1" fill="#c0c0c0"/>
<rect x="1176" y="638" width="3" height="1" fill="#c0c0c0"/>
<rect x="1182" y="638" width="3" height="1" fill="#c0c0c0"/>
<rect x="1188" y="638" width="3" height="1" fill="#c0c0c0"/>
<path d="M6 601.5h2M47 601.5h2M58 601.5h2M143 601.5h2M517 601.5h4M692 601.5h3M744 601.5h3M752 601.5h3M758 601.5h2M180 617.5h3M226 617.5h2M282 617.5h2M395 617.5h2M426 617.5h5M644 617.5h5M941 617.5h2M15 596.5h3M35 596.5h4M95 596.5h5M713 596.5h2M769 596.5h15M18 595.5h2M32 595.5h3M100 595.5h3M715 595.5h2M1062 595.5h2M1082 595.5h7M345 642.5h3M52 603.5h3M148 603.5h2M733 603.5h4M485 608.5h2M586 608.5h2M593 608.5h3M972 608.5h4M983 608.5h2M996 608.5h4M1124 608.5h6M1134 608.5h3M177 618.5h3M223 618.5h3M275 618.5h2M279 618.5h3M288 618.5h3M393 618.5h2M431 618.5h3M439 618.5h2M456 618.5h2M476 618.5h2M634 618.5h3M639 618.5h5M943 618.5h5M193 614.5h5M232 614.5h3M240 614.5h3M249 614.5h3M255 614.5h5M263 614.5h5M270 614.5h2M445 614.5h5M469 614.5h2M556 614.5h6M623 614.5h5M913 614.5h2M923 614.5h5M936 614.5h2M20 594.5h12M103 594.5h3M123 594.5h4M1064 594.5h2M1076 594.5h6M1089 594.5h6M13 597.5h2M93 597.5h2M765 597.5h4M784 597.5h3M1020 597.5h10M252 613.5h3M268 613.5h2M554 613.5h2M562 613.5h4M620 613.5h3M915 613.5h2M920 613.5h3M928 613.5h3M934 613.5h2M69 591.5h4M132 591.5h2M1069 591.5h2M108 592.5h12M129 592.5h3M1067 592.5h2M1071 592.5h3M1096 592.5h3M488 606.5h3M499 606.5h7M589 606.5h2M728 606.5h2M986 606.5h2M992 606.5h3M1003 606.5h3M1047 606.5h3M1138 606.5h3M183 616.5h5M228 616.5h3M244 616.5h3M284 616.5h3M397 616.5h5M417 616.5h9M442 616.5h2M472 616.5h3M630 616.5h3M649 616.5h5M910 616.5h2M939 616.5h2M8 600.5h2M44 600.5h3M60 600.5h2M141 600.5h2M521 600.5h13M683 600.5h2M687 600.5h5M695 600.5h5M747 600.5h5M760 600.5h2M236 612.5h3M541 612.5h5M551 612.5h3M615 612.5h5M917 612.5h3M931 612.5h3M965 612.5h2M1117 612.5h2M840 635.5h3M867 635.5h2M685 599.5h2M700 599.5h10M794 599.5h4M1013 599.5h2M496 605.5h3M506 605.5h4M1050 605.5h2M1141 605.5h4M169 620.5h6M292 620.5h3M390 620.5h2M436 620.5h2M905 620.5h2M953 620.5h5M1157 620.5h3M157 621.5h12M295 621.5h2M1160 621.5h3M591 607.5h2M726 607.5h2M1000 607.5h3M1037 607.5h10M49 602.5h3M55 602.5h3M145 602.5h3M514 602.5h3M670 602.5h3M737 602.5h7M755 602.5h3M800 602.5h2M1009 602.5h2M175 619.5h2M213 619.5h10M277 619.5h2M434 619.5h2M637 619.5h2M948 619.5h5M11 598.5h2M40 598.5h3M710 598.5h2M763 598.5h2M787 598.5h7M1015 598.5h5M300 623.5h5M596 609.5h3M976 609.5h3M1130 609.5h4M297 622.5h3M1163 622.5h10M368 626.5h2M893 626.5h3M333 637.5h2M874 637.5h7M81 588.5h3M188 615.5h5M247 615.5h2M260 615.5h3M402 615.5h15M450 615.5h4M628 615.5h2M340 640.5h3M326 634.5h3M829 634.5h11M865 634.5h2M305 624.5h13M371 624.5h2M374 624.5h2M899 624.5h3M343 641.5h2M896 625.5h3M492 604.5h4M510 604.5h3M665 604.5h2M674 604.5h3M678 604.5h2M731 604.5h2M989 604.5h2M1052 604.5h2M1145 604.5h5M823 630.5h2M859 630.5h2M106 593.5h2M120 593.5h3M127 593.5h2M1074 593.5h2M583 610.5h2M599 610.5h5M968 610.5h3M979 610.5h3M1120 610.5h3M357 627.5h4M366 627.5h2M854 627.5h2M361 628.5h5M379 628.5h2M856 628.5h2M330 636.5h3M843 636.5h3M869 636.5h5M546 611.5h5M604 611.5h11M79 589.5h2M335 638.5h3M881 638.5h5M338 639.5h2M826 632.5h2M862 632.5h2M73 590.5h6M1100 590.5h2M84 587.5h2M348 643.5h2M1119 611.5h1M825 631.5h1M274 617.5h1M149 604.5h1M1008 603.5h1M150.5 605v2M1104 594.5h1M540.5 610v2M480 614.5h1M1110.5 601v2M658 611.5h1M886.5 636v2M1099 591.5h1M817.5 622v2M354.5 632v3M199.5 617v2M243 615.5h1M43 599.5h1M86 588.5h1M821 628.5h1M851.5 628v2M1156.5 617v3M134 592.5h1M579.5 615v2M582 611.5h1M719.5 597v2M1012 600.5h1M353 635.5h1M39 597.5h1M62 599.5h1M806.5 607v2M491 605.5h1M1103.5 592v2M848 632.5h1M483.5 610v2M1061 596.5h1M904 621.5h1M578.5 617v2M487 607.5h1M1114.5 607v2M1031.5 599v2M352.5 636v3M1095 593.5h1M198.5 615v2M156.5 618v2M723.5 604v2M574.5 624v2M1152.5 609v3M1155 616.5h1M441 617.5h1M464 619.5h1M65.5 595v2M673 603.5h1M961 616.5h1M958 619.5h1M908 618.5h1M809.5 611v2M889 632.5h1M669 601.5h1M387 623.5h1M892.5 627v2M912 615.5h1M1030 598.5h1M662 607.5h1M677 605.5h1M820.5 626v2M1056 601.5h1M459 620.5h1M722.5 602v2M479.5 615v2M137.5 595v2M460 621.5h1M1102 591.5h1M356.5 628v3M988 605.5h1M1116.5 610v2M208 624.5h1M819 625.5h1M87.5 589v2M201.5 620v2M64 597.5h1M566.5 614v2M725 608.5h1M482 612.5h1M850 630.5h1M88 591.5h1M1154.5 613v3M329 635.5h1M718.5 595v2M382 628.5h1M660 609.5h1M888.5 633v2M1151 608.5h1M657 612.5h1M325 633.5h1M995 607.5h1M588 607.5h1M454 616.5h1M858 629.5h1M808 610.5h1M455 617.5h1M466 617.5h1M204.5 625v2M812.5 615v2M569.5 619v2M853 626.5h1M235 613.5h1M971 609.5h1M1033 602.5h1M963 614.5h1M991 605.5h1M155.5 616v2M721 601.5h1M724.5 606v2M1150.5 605v3M136 594.5h1M717 594.5h1M1060 597.5h1M318 625.5h1M903 622.5h1M1105 595.5h1M907 619.5h1M575.5 622v2M1058 599.5h1M386 624.5h1M200 619.5h1M1032 601.5h1M67 593.5h1M203.5 623v2M231 615.5h1M967 611.5h1M982 609.5h1M822 629.5h1M154.5 614v2M720.5 599v2M960 617.5h1M1153 612.5h1M461 622.5h1M210 622.5h1M389 621.5h1M139 598.5h1M891 629.5h1M664 605.5h1M370 625.5h1M633 617.5h1M351 639.5h1M655 614.5h1M811 614.5h1M1108 599.5h1M572.5 624v2M1066 593.5h1M1055 602.5h1M815 620.5h1M157 620.5h1M481 613.5h1M568 618.5h1M89 592.5h1M350.5 640v3M153.5 611v3M381 629.5h1M90 593.5h1M321.5 628v2M207 625.5h1M534.5 601v2M810 613.5h1M567.5 616v2M202 622.5h1M5 602.5h1M814.5 618v2M571.5 622v2M1137 607.5h1M384 626.5h1M847.5 633v2M1035.5 604v2M659 610.5h1M138 597.5h1M319 626.5h1M468 615.5h1M465 618.5h1M1107.5 597v2M320 627.5h1M803 604.5h1M438 619.5h1M962 615.5h1M681 602.5h1M828 633.5h1M66 594.5h1M537 606.5h1M377 626.5h1M484 609.5h1M205 627.5h1M570 621.5h1M1034 603.5h1M909 617.5h1M388 622.5h1M577 619.5h1M475 617.5h1M802 603.5h1M536.5 604v2M1106 596.5h1M654 615.5h1M813 617.5h1M513 603.5h1M376 625.5h1M573 626.5h1M471 615.5h1M985 607.5h1M1007 604.5h1M1011 601.5h1M799 601.5h1M92 596.5h1M152.5 609v2M392 619.5h1M730 605.5h1M1057 600.5h1M323 631.5h1M661 608.5h1M463 620.5h1M212 620.5h1M581 612.5h1M383 627.5h1M478 617.5h1M444 615.5h1M91.5 594v2M585 609.5h1M798 600.5h1M209 623.5h1M273 616.5h1M140 599.5h1M68 592.5h1M151.5 607v2M938 615.5h1M668 602.5h1M322 630.5h1M535 603.5h1M680 603.5h1M239 613.5h1M1109 600.5h1M846 635.5h1M816 621.5h1M539 609.5h1M1113 606.5h1M467 616.5h1M291 619.5h1M272 615.5h1M355 631.5h1M964 613.5h1M580.5 613v2M538.5 607v2M849 631.5h1M1112.5 604v2M287 617.5h1M762 599.5h1M63 598.5h1M805 606.5h1M1006 605.5h1M1036 606.5h1M887 635.5h1M576.5 620v2M378 627.5h1M1059 598.5h1M864 633.5h1M656 613.5h1M385 625.5h1M804 605.5h1M852 627.5h1M462 621.5h1M211 621.5h1M959 618.5h1M861 631.5h1M712 597.5h1M890.5 630v2M458 619.5h1M10 599.5h1M902 623.5h1M682 601.5h1M663 606.5h1M1123 609.5h1M667 603.5h1M1054 603.5h1M1111 603.5h1M324 632.5h1M807 609.5h1M818 624.5h1M1115 609.5h1M373 623.5h1M206 626.5h1M135 593.5h1" fill="none" stroke="#0888ff" stroke-width="1"/>
<rect x="1193" y="37" width="2" height="1" fill="#000"/>
<text x="1198.2" y="41" textLength="32.3" lengthAdjust="spacingAndGlyphs" fill="#000" stroke="#000">115.340</text>
<rect x="1193" y="70" width="2" height="1" fill="#000"/>
<text x="1198.2" y="74" textLength="32.3" lengthAdjust="spacingAndGlyphs" fill="#000" stroke="#000">114.020</text>
<rect x="1193" y="103" width="2" height="1" fill="#000"/>
<text x="1198.2" y="107" textLength="32.3" lengthAdjust="spacingAndGlyphs" fill="#000" stroke="#000">112.660</text>
<rect x="1193" y="136" width="2" height="1" fill="#000"/>
<text x="1198.2" y="140" textLength="32.3" lengthAdjust="spacingAndGlyphs" fill="#000" stroke="#000">111.300</text>
<rect x="1193" y="169" width="2" height="1" fill="#000"/>
<text x="1198.2" y="173" textLength="32.3" lengthAdjust="spacingAndGlyphs" fill="#000" stroke="#000">109.940</text>
<rect x="1193" y="202" width="2" height="1" fill="#000"/>
<text x="1198.2" y="206" textLength="32.3" lengthAdjust="spacingAndGlyphs" fill="#000" stroke="#000">108.580</text>
<rect x="1193" y="235" width="2" height="1" fill="#000"/>
<text x="1198.2" y="239" textLength="32.3" lengthAdjust="spacingAndGlyphs" fill="#000" stroke="#000">107.220</text>
<rect x="1193" y="268" width="2" height="1" fill="#000"/>
<text x="1198.2" y="272" textLength="32.3" lengthAdjust="spacingAndGlyphs" fill="#000" stroke="#000">105.900</text>
<rect x="1193" y="301" width="2" height="1" fill="#000"/>
<text x="1198.2" y="305" textLength="32.3" lengthAdjust="spacingAndGlyphs" fill="#000" stroke="#000">104.540</text>
<rect x="1193" y="334" width="2" height="1" fill="#000"/>
<text x="1198.2" y="338" textLength="32.3" lengthAdjust="spacingAndGlyphs" fill="#000" stroke="#000">103.180</text>
<rect x="1193" y="367" width="2" height="1" fill="#000"/>
<text x="1198.2" y="371" textLength="32.3" lengthAdjust="spacingAndGlyphs" fill="#000" stroke="#000">101.820</text>
<rect x="1193" y="400" width="2" height="1" fill="#000"/>
<text x="1198.2" y="404" textLength="32.3" lengthAdjust="spacingAndGlyphs" fill="#000" stroke="#000">100.460</text>
<rect x="1193" y="433" width="2" height="1" fill="#000"/>
<text x="1198.2" y="437" textLength="27.3" lengthAdjust="spacingAndGlyphs" fill="#000" stroke="#000">99.140</text>
<rect x="1195" y="76" width="39" height="11" fill="#ff0000"/>
<text x="1198.2" y="85" textLength="32.3" lengthAdjust="spacingAndGlyphs" fill="#fff" stroke="#fff">113.500</text>
<rect x="1195" y="149" width="39" height="11" fill="#00d200"/>
<text x="1198.2" y="158" textLength="32.3" lengthAdjust="spacingAndGlyphs" fill="#fff" stroke="#fff">110.500</text>
<rect x="1195" y="235" width="39" height="11" fill="#4358e6"/>
<text x="1198.2" y="244" textLength="32.3" lengthAdjust="spacingAndGlyphs" fill="#fff" stroke="#fff">107.000</text>
<rect x="1195" y="320" width="39" height="11" fill="#4358e6"/>
<text x="1198.2" y="329" textLength="32.3" lengthAdjust="spacingAndGlyphs" fill="#fff" stroke="#fff">103.500</text>
<rect x="1192" y="187" width="1" height="1" fill="#c0c0c0"/>
<rect x="1195" y="182" width="39" height="11" fill="#000"/>
<text x="1198.2" y="191" textLength="32.3" lengthAdjust="spacingAndGlyphs" fill="#fff" stroke="#fff">109.207</text>
<rect x="1193" y="440" width="1" height="1" fill="#000"/>
<text x="1195.5" y="449" textLength="28" lengthAdjust="spacingAndGlyphs" fill="#000" stroke="#000">2.7078</text>
<rect x="1193" y="506" width="1" height="1" fill="#000"/>
<text x="1196" y="510" textLength="18" lengthAdjust="spacingAndGlyphs" fill="#000" stroke="#000">0.00</text>
<rect x="1193" y="552" width="1" height="1" fill="#000"/>
<text x="1195.5" y="550" textLength="31.3" lengthAdjust="spacingAndGlyphs" fill="#000" stroke="#000">-1.9038</text>
<rect x="1193" y="557" width="1" height="1" fill="#000"/>
<text x="1195.5" y="566" textLength="15" lengthAdjust="spacingAndGlyphs" fill="#000" stroke="#000">100</text>
<text x="1195" y="595" textLength="10" lengthAdjust="spacingAndGlyphs" fill="#000" stroke="#000">70</text>
<text x="1195" y="642" textLength="10" lengthAdjust="spacingAndGlyphs" fill="#000" stroke="#000">30</text>
<rect x="1193" y="672" width="1" height="1" fill="#000"/>
<text x="1195.5" y="670" textLength="5" lengthAdjust="spacingAndGlyphs" fill="#000" stroke="#000">0</text>
<rect x="5" y="674" width="1" height="3" fill="#000"/>
<text x="4.3" y="686" textLength="49.8" lengthAdjust="spacingAndGlyphs" fill="#000" stroke="#000">13 Apr 2022</text>
<rect x="69" y="674" width="1" height="3" fill="#000"/>
<text x="68.3" y="686" textLength="53" lengthAdjust="spacingAndGlyphs" fill="#000" stroke="#000">14 Apr 16:00</text>
<rect x="133" y="674" width="1" height="3" fill="#000"/>
<text x="132.3" y="686" textLength="53" lengthAdjust="spacingAndGlyphs" fill="#000" stroke="#000">19 Apr 00:00</text>
<rect x="197" y="674" width="1" height="3" fill="#000"/>
<text x="196.3" y="686" textLength="53" lengthAdjust="spacingAndGlyphs" fill="#000" stroke="#000">20 Apr 08:00</text>
<rect x="261" y="674" width="1" height="3" fill="#000"/>
<text x="260.3" y="686" textLength="53" lengthAdjust="spacingAndGlyphs" fill="#000" stroke="#000">21 Apr 16:00</text>
<rect x="325" y="674" width="1" height="3" fill="#000"/>
<text x="324.3" y="686" textLength="53" lengthAdjust="spacingAndGlyphs" fill="#000" stroke="#000">25 Apr 00:00</text>
<rect x="389" y="674" width="1" height="3" fill="#000"/>
<text x="388.3" y="686" textLength="53" lengthAdjust="spacingAndGlyphs" fill="#000" stroke="#000">26 Apr 08:00</text>
<rect x="453" y="674" width="1" height="3" fill="#000"/>
<text x="452.3" y="686" textLength="53" lengthAdjust="spacingAndGlyphs" fill="#000" stroke="#000">27 Apr 20:00</text>
<rect x="517" y="674" width="1" height="3" fill="#000"/>
<text x="516.3" y="686" textLength="53" lengthAdjust="spacingAndGlyphs" fill="#000" stroke="#000">29 Apr 04:00</text>
<rect x="581" y="674" width="1" height="3" fill="#000"/>
<text x="580.3" y="686" textLength="52.5" lengthAdjust="spacingAndGlyphs" fill="#000" stroke="#000">2 May 12:00</text>
<rect x="645" y="674" width="1" height="3" fill="#000"/>
<text x="644.3" y="686" textLength="52.5" lengthAdjust="spacingAndGlyphs" fill="#000" stroke="#000">3 May 20:00</text>
<rect x="709" y="674" width="1" height="3" fill="#000"/>
<text x="708.3" y="686" textLength="52.5" lengthAdjust="spacingAndGlyphs" fill="#000" stroke="#000">5 May 04:00</text>
<rect x="773" y="674" width="1" height="3" fill="#000"/>
<text x="772.3" y="686" textLength="52.5" lengthAdjust="spacingAndGlyphs" fill="#000" stroke="#000">6 May 12:00</text>
<rect x="837" y="674" width="1" height="3" fill="#000"/>
<text x="836.3" y="686" textLength="52.5" lengthAdjust="spacingAndGlyphs" fill="#000" stroke="#000">9 May 20:00</text>
<rect x="901" y="674" width="1" height="3" fill="#000"/>
<text x="900.3" y="686" textLength="57.3" lengthAdjust="spacingAndGlyphs" fill="#000" stroke="#000">11 May 04:00</text>
<rect x="965" y="674" width="1" height="3" fill="#000"/>
<text x="964.3" y="686" textLength="57.3" lengthAdjust="spacingAndGlyphs" fill="#000" stroke="#000">12 May 12:00</text>
<rect x="1029" y="674" width="1" height="3" fill="#000"/>
<text x="1028.3" y="686" textLength="57.3" lengthAdjust="spacingAndGlyphs" fill="#000" stroke="#000">13 May 20:00</text>
<rect x="1093" y="674" width="1" height="3" fill="#000"/>
<text x="1092.3" y="686" textLength="57.3" lengthAdjust="spacingAndGlyphs" fill="#000" stroke="#000">17 May 04:00</text>
<rect x="1157" y="674" width="1" height="3" fill="#000"/>
<text x="1156.3" y="686" textLength="57.3" lengthAdjust="spacingAndGlyphs" fill="#000" stroke="#000">18 May 12:00</text>
<rect x="8" y="16" width="7" height="1" fill="#000"/>
<rect x="9" y="17" width="5" height="1" fill="#000"/>
<rect x="10" y="18" width="3" height="1" fill="#000"/>
<rect x="11" y="19" width="1" height="1" fill="#000"/>
<text x="19.5" y="21" textLength="44" lengthAdjust="spacingAndGlyphs" fill="#000" stroke="#000">UKOil-,H4</text>
<text x="69.2" y="21" textLength="33" lengthAdjust="spacingAndGlyphs" fill="#000" stroke="#000">109.266</text>
<text x="105.2" y="21" textLength="33" lengthAdjust="spacingAndGlyphs" fill="#000" stroke="#000">109.336</text>
<text x="141.2" y="21" textLength="33" lengthAdjust="spacingAndGlyphs" fill="#000" stroke="#000">108.812</text>
<text x="177.2" y="21" textLength="33" lengthAdjust="spacingAndGlyphs" fill="#000" stroke="#000">109.207</text>
<text x="8.3" y="451" textLength="65.7" lengthAdjust="spacingAndGlyphs" fill="#000" stroke="#000">MACD(12,26,9)</text>
<text x="77.3" y="451" textLength="28.5" lengthAdjust="spacingAndGlyphs" fill="#000" stroke="#000">0.4090</text>
<text x="108.6" y="451" textLength="28" lengthAdjust="spacingAndGlyphs" fill="#000" stroke="#000">1.2245</text>
<text x="8.3" y="568" textLength="32.2" lengthAdjust="spacingAndGlyphs" fill="#000" stroke="#000">RSI(14)</text>
<text x="43.4" y="568" textLength="33.3" lengthAdjust="spacingAndGlyphs" fill="#000" stroke="#000">43.3959</text>
</svg>
</body></html>
